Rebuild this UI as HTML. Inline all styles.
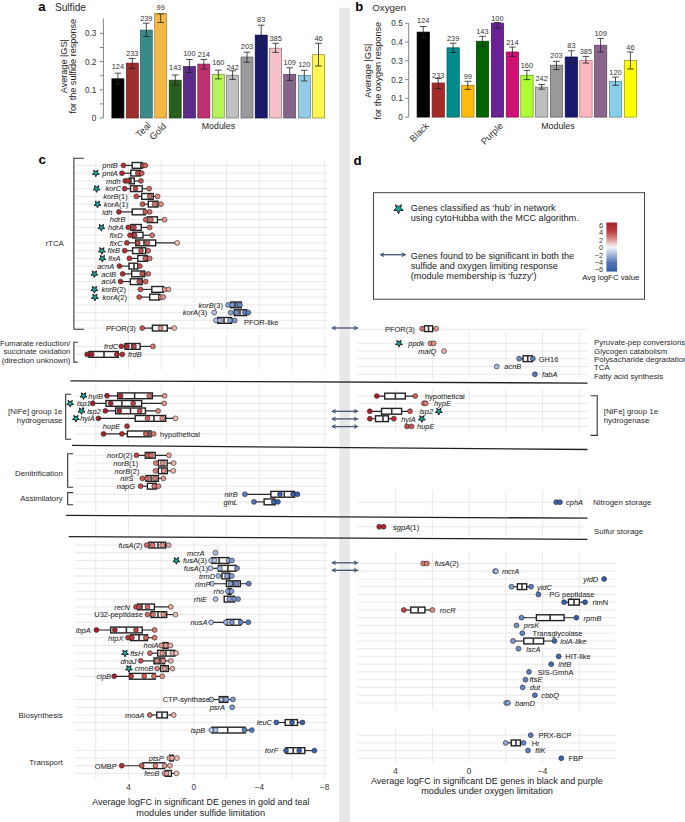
<!DOCTYPE html>
<html><head><meta charset="utf-8"><style>
html,body{margin:0;padding:0;background:#fff;}
svg{display:block;font-family:"Liberation Sans", sans-serif;}
</style></head><body>
<svg width="685" height="822" viewBox="0 0 685 822">
<rect x="0" y="0" width="685" height="822" fill="#fff"/>
<rect x="339.3" y="7.7" width="10.7" height="815" fill="#e8e8e8"/>
<text x="38.3" y="10.6" font-size="13" text-anchor="start" fill="#000" style="font-weight:bold;" >a</text>
<text x="55.0" y="10.6" font-size="10.1" text-anchor="start" fill="#2a2a2a" style="" >Sulfide</text>
<line x1="103.4" y1="18.7" x2="103.4" y2="118.0" stroke="#666" stroke-width="0.8"/>
<line x1="99.9" y1="118.0" x2="103.4" y2="118.0" stroke="#666" stroke-width="0.8"/>
<text x="96.4" y="120.9" font-size="8.2" text-anchor="end" fill="#333" style="" >0</text>
<line x1="99.9" y1="103.9" x2="103.4" y2="103.9" stroke="#666" stroke-width="0.8"/>
<line x1="99.9" y1="89.8" x2="103.4" y2="89.8" stroke="#666" stroke-width="0.8"/>
<text x="96.4" y="92.7" font-size="8.2" text-anchor="end" fill="#333" style="" >0.1</text>
<line x1="99.9" y1="75.7" x2="103.4" y2="75.7" stroke="#666" stroke-width="0.8"/>
<line x1="99.9" y1="61.6" x2="103.4" y2="61.6" stroke="#666" stroke-width="0.8"/>
<text x="96.4" y="64.5" font-size="8.2" text-anchor="end" fill="#333" style="" >0.2</text>
<line x1="99.9" y1="47.5" x2="103.4" y2="47.5" stroke="#666" stroke-width="0.8"/>
<line x1="99.9" y1="33.4" x2="103.4" y2="33.4" stroke="#666" stroke-width="0.8"/>
<text x="96.4" y="36.3" font-size="8.2" text-anchor="end" fill="#333" style="" >0.3</text>
<rect x="111.9" y="78.8" width="12" height="39.2" fill="#000000" stroke="#000" stroke-width="0.7"/>
<line x1="117.9" y1="73.2" x2="117.9" y2="84.0" stroke="#222" stroke-width="0.8"/>
<line x1="114.6" y1="73.2" x2="121.2" y2="73.2" stroke="#222" stroke-width="0.8"/>
<line x1="114.6" y1="84.0" x2="121.2" y2="84.0" stroke="#222" stroke-width="0.8"/>
<text x="117.9" y="69.1" font-size="7.4" text-anchor="middle" fill="#333" style="" >124</text>
<rect x="126.3" y="63.1" width="12" height="54.9" fill="#9b2f2d" stroke="#6b1f1d" stroke-width="0.7"/>
<line x1="132.3" y1="58.5" x2="132.3" y2="68.5" stroke="#222" stroke-width="0.8"/>
<line x1="129.0" y1="58.5" x2="135.6" y2="58.5" stroke="#222" stroke-width="0.8"/>
<line x1="129.0" y1="68.5" x2="135.6" y2="68.5" stroke="#222" stroke-width="0.8"/>
<text x="132.3" y="55.8" font-size="7.4" text-anchor="middle" fill="#333" style="" >233</text>
<rect x="140.3" y="30.1" width="12" height="87.9" fill="#3b8a8a" stroke="#2a6262" stroke-width="0.7"/>
<line x1="146.3" y1="23.2" x2="146.3" y2="36.5" stroke="#222" stroke-width="0.8"/>
<line x1="143.0" y1="23.2" x2="149.6" y2="23.2" stroke="#222" stroke-width="0.8"/>
<line x1="143.0" y1="36.5" x2="149.6" y2="36.5" stroke="#222" stroke-width="0.8"/>
<text x="146.3" y="21.3" font-size="7.4" text-anchor="middle" fill="#333" style="" >239</text>
<rect x="154.7" y="13.5" width="12" height="104.5" fill="#f3b843" stroke="#a88030" stroke-width="0.7"/>
<line x1="160.7" y1="14.0" x2="160.7" y2="22.5" stroke="#222" stroke-width="0.8"/>
<line x1="157.4" y1="14.0" x2="164.0" y2="14.0" stroke="#222" stroke-width="0.8"/>
<line x1="157.4" y1="22.5" x2="164.0" y2="22.5" stroke="#222" stroke-width="0.8"/>
<text x="160.7" y="10.3" font-size="7.4" text-anchor="middle" fill="#333" style="" >99</text>
<rect x="169.2" y="80.2" width="12" height="37.8" fill="#2a5e1c" stroke="#1a3e10" stroke-width="0.7"/>
<line x1="175.2" y1="75.0" x2="175.2" y2="85.0" stroke="#222" stroke-width="0.8"/>
<line x1="171.9" y1="75.0" x2="178.5" y2="75.0" stroke="#222" stroke-width="0.8"/>
<line x1="171.9" y1="85.0" x2="178.5" y2="85.0" stroke="#222" stroke-width="0.8"/>
<text x="175.2" y="69.9" font-size="7.4" text-anchor="middle" fill="#333" style="" >143</text>
<rect x="183.4" y="66.6" width="12" height="51.4" fill="#5c2a8a" stroke="#3c1a5a" stroke-width="0.7"/>
<line x1="189.4" y1="59.5" x2="189.4" y2="72.5" stroke="#222" stroke-width="0.8"/>
<line x1="186.1" y1="59.5" x2="192.7" y2="59.5" stroke="#222" stroke-width="0.8"/>
<line x1="186.1" y1="72.5" x2="192.7" y2="72.5" stroke="#222" stroke-width="0.8"/>
<text x="189.4" y="56.0" font-size="7.4" text-anchor="middle" fill="#333" style="" >100</text>
<rect x="197.8" y="64.1" width="12" height="53.9" fill="#c0306f" stroke="#802048" stroke-width="0.7"/>
<line x1="203.8" y1="59.5" x2="203.8" y2="69.0" stroke="#222" stroke-width="0.8"/>
<line x1="200.5" y1="59.5" x2="207.1" y2="59.5" stroke="#222" stroke-width="0.8"/>
<line x1="200.5" y1="69.0" x2="207.1" y2="69.0" stroke="#222" stroke-width="0.8"/>
<text x="203.8" y="57.3" font-size="7.4" text-anchor="middle" fill="#333" style="" >214</text>
<rect x="212.3" y="74.3" width="12" height="43.7" fill="#b6f55a" stroke="#708a40" stroke-width="0.7"/>
<line x1="218.3" y1="70.1" x2="218.3" y2="78.9" stroke="#222" stroke-width="0.8"/>
<line x1="215.0" y1="70.1" x2="221.6" y2="70.1" stroke="#222" stroke-width="0.8"/>
<line x1="215.0" y1="78.9" x2="221.6" y2="78.9" stroke="#222" stroke-width="0.8"/>
<text x="218.3" y="65.2" font-size="7.4" text-anchor="middle" fill="#333" style="" >160</text>
<rect x="226.6" y="75.2" width="12" height="42.8" fill="#c0c0c0" stroke="#707070" stroke-width="0.7"/>
<line x1="232.6" y1="70.8" x2="232.6" y2="79.4" stroke="#222" stroke-width="0.8"/>
<line x1="229.3" y1="70.8" x2="235.9" y2="70.8" stroke="#222" stroke-width="0.8"/>
<line x1="229.3" y1="79.4" x2="235.9" y2="79.4" stroke="#222" stroke-width="0.8"/>
<text x="232.6" y="69.6" font-size="7.4" text-anchor="middle" fill="#333" style="" >242</text>
<rect x="241.0" y="57.0" width="12" height="61.0" fill="#9a9a9a" stroke="#606060" stroke-width="0.7"/>
<line x1="247.0" y1="52.2" x2="247.0" y2="62.2" stroke="#222" stroke-width="0.8"/>
<line x1="243.7" y1="52.2" x2="250.3" y2="52.2" stroke="#222" stroke-width="0.8"/>
<line x1="243.7" y1="62.2" x2="250.3" y2="62.2" stroke="#222" stroke-width="0.8"/>
<text x="247.0" y="48.6" font-size="7.4" text-anchor="middle" fill="#333" style="" >203</text>
<rect x="255.2" y="35.1" width="12" height="82.9" fill="#1a1a6a" stroke="#0a0a3a" stroke-width="0.7"/>
<line x1="261.2" y1="25.2" x2="261.2" y2="45.6" stroke="#222" stroke-width="0.8"/>
<line x1="257.9" y1="25.2" x2="264.5" y2="25.2" stroke="#222" stroke-width="0.8"/>
<line x1="257.9" y1="45.6" x2="264.5" y2="45.6" stroke="#222" stroke-width="0.8"/>
<text x="261.2" y="21.5" font-size="7.4" text-anchor="middle" fill="#333" style="" >83</text>
<rect x="269.6" y="48.2" width="12" height="69.8" fill="#f5c0ca" stroke="#907078" stroke-width="0.7"/>
<line x1="275.6" y1="43.3" x2="275.6" y2="52.4" stroke="#222" stroke-width="0.8"/>
<line x1="272.3" y1="43.3" x2="278.9" y2="43.3" stroke="#222" stroke-width="0.8"/>
<line x1="272.3" y1="52.4" x2="278.9" y2="52.4" stroke="#222" stroke-width="0.8"/>
<text x="275.6" y="41.0" font-size="7.4" text-anchor="middle" fill="#333" style="" >385</text>
<rect x="283.7" y="74.3" width="12" height="43.7" fill="#85648a" stroke="#554060" stroke-width="0.7"/>
<line x1="289.7" y1="67.8" x2="289.7" y2="80.4" stroke="#222" stroke-width="0.8"/>
<line x1="286.4" y1="67.8" x2="293.0" y2="67.8" stroke="#222" stroke-width="0.8"/>
<line x1="286.4" y1="80.4" x2="293.0" y2="80.4" stroke="#222" stroke-width="0.8"/>
<text x="289.7" y="65.2" font-size="7.4" text-anchor="middle" fill="#333" style="" >109</text>
<rect x="298.3" y="75.3" width="12" height="42.7" fill="#94cce8" stroke="#5a7a8a" stroke-width="0.7"/>
<line x1="304.3" y1="70.3" x2="304.3" y2="81.0" stroke="#222" stroke-width="0.8"/>
<line x1="301.0" y1="70.3" x2="307.6" y2="70.3" stroke="#222" stroke-width="0.8"/>
<line x1="301.0" y1="81.0" x2="307.6" y2="81.0" stroke="#222" stroke-width="0.8"/>
<text x="304.3" y="67.3" font-size="7.4" text-anchor="middle" fill="#333" style="" >120</text>
<rect x="312.5" y="54.7" width="12" height="63.3" fill="#fff650" stroke="#908a30" stroke-width="0.7"/>
<line x1="318.5" y1="43.3" x2="318.5" y2="66.0" stroke="#222" stroke-width="0.8"/>
<line x1="315.2" y1="43.3" x2="321.8" y2="43.3" stroke="#222" stroke-width="0.8"/>
<line x1="315.2" y1="66.0" x2="321.8" y2="66.0" stroke="#222" stroke-width="0.8"/>
<text x="318.5" y="41.0" font-size="7.4" text-anchor="middle" fill="#333" style="" >46</text>
<text x="151.5" y="126.0" font-size="9.2" text-anchor="end" fill="#333" transform="rotate(-45 151.5 126.0)">Teal</text>
<text x="166.9" y="126.8" font-size="9.2" text-anchor="end" fill="#333" transform="rotate(-45 166.9 126.8)">Gold</text>
<text x="201.8" y="129.0" font-size="8.8" text-anchor="start" fill="#222" style="" >Modules</text>
<text x="66.8" y="66.2" font-size="9.1" text-anchor="middle" fill="#222" transform="rotate(-90 66.8 66.2)">Average |GS|</text>
<text x="76.3" y="66.2" font-size="9.1" text-anchor="middle" fill="#222" transform="rotate(-90 76.3 66.2)">for the sulfide response</text>
<text x="355.3" y="10.9" font-size="13" text-anchor="start" fill="#000" style="font-weight:bold;" >b</text>
<text x="372.2" y="10.9" font-size="9.8" text-anchor="start" fill="#2a2a2a" style="" >Oxygen</text>
<line x1="408.7" y1="23.3" x2="408.7" y2="117.1" stroke="#666" stroke-width="0.8"/>
<line x1="405.2" y1="117.1" x2="408.7" y2="117.1" stroke="#666" stroke-width="0.8"/>
<text x="402.7" y="120.0" font-size="8.2" text-anchor="end" fill="#333" style="" >0</text>
<line x1="405.2" y1="98.3" x2="408.7" y2="98.3" stroke="#666" stroke-width="0.8"/>
<text x="402.7" y="101.2" font-size="8.2" text-anchor="end" fill="#333" style="" >0.1</text>
<line x1="405.2" y1="79.6" x2="408.7" y2="79.6" stroke="#666" stroke-width="0.8"/>
<text x="402.7" y="82.5" font-size="8.2" text-anchor="end" fill="#333" style="" >0.2</text>
<line x1="405.2" y1="60.8" x2="408.7" y2="60.8" stroke="#666" stroke-width="0.8"/>
<text x="402.7" y="63.7" font-size="8.2" text-anchor="end" fill="#333" style="" >0.3</text>
<line x1="405.2" y1="42.1" x2="408.7" y2="42.1" stroke="#666" stroke-width="0.8"/>
<text x="402.7" y="45.0" font-size="8.2" text-anchor="end" fill="#333" style="" >0.4</text>
<line x1="405.2" y1="23.3" x2="408.7" y2="23.3" stroke="#666" stroke-width="0.8"/>
<text x="402.7" y="26.2" font-size="8.2" text-anchor="end" fill="#333" style="" >0.5</text>
<rect x="417.1" y="32.1" width="12.3" height="85.0" fill="#000000" stroke="#000" stroke-width="0.7"/>
<line x1="423.2" y1="26.5" x2="423.2" y2="38.0" stroke="#222" stroke-width="0.8"/>
<line x1="419.9" y1="26.5" x2="426.6" y2="26.5" stroke="#222" stroke-width="0.8"/>
<line x1="419.9" y1="38.0" x2="426.6" y2="38.0" stroke="#222" stroke-width="0.8"/>
<text x="423.2" y="23.1" font-size="7.4" text-anchor="middle" fill="#333" style="" >124</text>
<rect x="432.1" y="83.0" width="12.3" height="34.1" fill="#a52a2a" stroke="#701a1a" stroke-width="0.7"/>
<line x1="438.2" y1="78.5" x2="438.2" y2="88.5" stroke="#222" stroke-width="0.8"/>
<line x1="434.9" y1="78.5" x2="441.6" y2="78.5" stroke="#222" stroke-width="0.8"/>
<line x1="434.9" y1="88.5" x2="441.6" y2="88.5" stroke="#222" stroke-width="0.8"/>
<text x="438.2" y="77.5" font-size="7.4" text-anchor="middle" fill="#333" style="" >233</text>
<rect x="447.0" y="47.8" width="12.3" height="69.3" fill="#008b8b" stroke="#005a5a" stroke-width="0.7"/>
<line x1="453.1" y1="43.2" x2="453.1" y2="52.5" stroke="#222" stroke-width="0.8"/>
<line x1="449.8" y1="43.2" x2="456.4" y2="43.2" stroke="#222" stroke-width="0.8"/>
<line x1="449.8" y1="52.5" x2="456.4" y2="52.5" stroke="#222" stroke-width="0.8"/>
<text x="453.1" y="40.7" font-size="7.4" text-anchor="middle" fill="#333" style="" >239</text>
<rect x="461.7" y="85.3" width="12.3" height="31.8" fill="#ffb90f" stroke="#a07810" stroke-width="0.7"/>
<line x1="467.8" y1="81.3" x2="467.8" y2="89.4" stroke="#222" stroke-width="0.8"/>
<line x1="464.5" y1="81.3" x2="471.1" y2="81.3" stroke="#222" stroke-width="0.8"/>
<line x1="464.5" y1="89.4" x2="471.1" y2="89.4" stroke="#222" stroke-width="0.8"/>
<text x="467.8" y="78.8" font-size="7.4" text-anchor="middle" fill="#333" style="" >99</text>
<rect x="476.3" y="41.2" width="12.3" height="75.9" fill="#006400" stroke="#004000" stroke-width="0.7"/>
<line x1="482.4" y1="36.3" x2="482.4" y2="46.3" stroke="#222" stroke-width="0.8"/>
<line x1="479.1" y1="36.3" x2="485.8" y2="36.3" stroke="#222" stroke-width="0.8"/>
<line x1="479.1" y1="46.3" x2="485.8" y2="46.3" stroke="#222" stroke-width="0.8"/>
<text x="482.4" y="33.6" font-size="7.4" text-anchor="middle" fill="#333" style="" >143</text>
<rect x="491.3" y="23.1" width="12.3" height="94.0" fill="#6a2096" stroke="#401060" stroke-width="0.7"/>
<line x1="497.4" y1="22.5" x2="497.4" y2="28.4" stroke="#222" stroke-width="0.8"/>
<line x1="494.1" y1="22.5" x2="500.8" y2="22.5" stroke="#222" stroke-width="0.8"/>
<line x1="494.1" y1="28.4" x2="500.8" y2="28.4" stroke="#222" stroke-width="0.8"/>
<text x="497.4" y="21.0" font-size="7.4" text-anchor="middle" fill="#333" style="" >100</text>
<rect x="506.2" y="52.0" width="12.3" height="65.1" fill="#d01075" stroke="#800a48" stroke-width="0.7"/>
<line x1="512.4" y1="47.1" x2="512.4" y2="56.4" stroke="#222" stroke-width="0.8"/>
<line x1="509.1" y1="47.1" x2="515.6" y2="47.1" stroke="#222" stroke-width="0.8"/>
<line x1="509.1" y1="56.4" x2="515.6" y2="56.4" stroke="#222" stroke-width="0.8"/>
<text x="512.4" y="45.3" font-size="7.4" text-anchor="middle" fill="#333" style="" >214</text>
<rect x="520.8" y="75.2" width="12.3" height="41.9" fill="#adff2f" stroke="#6a9a20" stroke-width="0.7"/>
<line x1="526.9" y1="70.4" x2="526.9" y2="79.6" stroke="#222" stroke-width="0.8"/>
<line x1="523.6" y1="70.4" x2="530.2" y2="70.4" stroke="#222" stroke-width="0.8"/>
<line x1="523.6" y1="79.6" x2="530.2" y2="79.6" stroke="#222" stroke-width="0.8"/>
<text x="526.9" y="68.3" font-size="7.4" text-anchor="middle" fill="#333" style="" >160</text>
<rect x="535.5" y="87.1" width="12.3" height="30.0" fill="#bebebe" stroke="#707070" stroke-width="0.7"/>
<line x1="541.6" y1="84.5" x2="541.6" y2="89.2" stroke="#222" stroke-width="0.8"/>
<line x1="538.4" y1="84.5" x2="544.9" y2="84.5" stroke="#222" stroke-width="0.8"/>
<line x1="538.4" y1="89.2" x2="544.9" y2="89.2" stroke="#222" stroke-width="0.8"/>
<text x="541.6" y="81.2" font-size="7.4" text-anchor="middle" fill="#333" style="" >242</text>
<rect x="550.4" y="65.2" width="12.3" height="51.9" fill="#999999" stroke="#5a5a5a" stroke-width="0.7"/>
<line x1="556.5" y1="61.3" x2="556.5" y2="69.6" stroke="#222" stroke-width="0.8"/>
<line x1="553.2" y1="61.3" x2="559.8" y2="61.3" stroke="#222" stroke-width="0.8"/>
<line x1="553.2" y1="69.6" x2="559.8" y2="69.6" stroke="#222" stroke-width="0.8"/>
<text x="556.5" y="57.5" font-size="7.4" text-anchor="middle" fill="#333" style="" >203</text>
<rect x="565.2" y="57.0" width="12.3" height="60.1" fill="#191970" stroke="#0a0a40" stroke-width="0.7"/>
<line x1="571.4" y1="50.8" x2="571.4" y2="63.1" stroke="#222" stroke-width="0.8"/>
<line x1="568.1" y1="50.8" x2="574.6" y2="50.8" stroke="#222" stroke-width="0.8"/>
<line x1="568.1" y1="63.1" x2="574.6" y2="63.1" stroke="#222" stroke-width="0.8"/>
<text x="571.4" y="47.5" font-size="7.4" text-anchor="middle" fill="#333" style="" >83</text>
<rect x="579.8" y="60.3" width="12.3" height="56.8" fill="#ffb6c1" stroke="#9a7078" stroke-width="0.7"/>
<line x1="585.9" y1="56.4" x2="585.9" y2="63.1" stroke="#222" stroke-width="0.8"/>
<line x1="582.6" y1="56.4" x2="589.2" y2="56.4" stroke="#222" stroke-width="0.8"/>
<line x1="582.6" y1="63.1" x2="589.2" y2="63.1" stroke="#222" stroke-width="0.8"/>
<text x="585.9" y="53.9" font-size="7.4" text-anchor="middle" fill="#333" style="" >385</text>
<rect x="594.5" y="45.2" width="12.3" height="71.9" fill="#8b668b" stroke="#5a405a" stroke-width="0.7"/>
<line x1="600.6" y1="38.4" x2="600.6" y2="52.0" stroke="#222" stroke-width="0.8"/>
<line x1="597.4" y1="38.4" x2="603.9" y2="38.4" stroke="#222" stroke-width="0.8"/>
<line x1="597.4" y1="52.0" x2="603.9" y2="52.0" stroke="#222" stroke-width="0.8"/>
<text x="600.6" y="35.9" font-size="7.4" text-anchor="middle" fill="#333" style="" >109</text>
<rect x="609.4" y="81.3" width="12.3" height="35.8" fill="#87ceeb" stroke="#50808a" stroke-width="0.7"/>
<line x1="615.5" y1="77.1" x2="615.5" y2="85.3" stroke="#222" stroke-width="0.8"/>
<line x1="612.2" y1="77.1" x2="618.8" y2="77.1" stroke="#222" stroke-width="0.8"/>
<line x1="612.2" y1="85.3" x2="618.8" y2="85.3" stroke="#222" stroke-width="0.8"/>
<text x="615.5" y="75.0" font-size="7.4" text-anchor="middle" fill="#333" style="" >120</text>
<rect x="624.3" y="60.3" width="12.3" height="56.8" fill="#ffff00" stroke="#90902a" stroke-width="0.7"/>
<line x1="630.4" y1="52.0" x2="630.4" y2="69.0" stroke="#222" stroke-width="0.8"/>
<line x1="627.1" y1="52.0" x2="633.7" y2="52.0" stroke="#222" stroke-width="0.8"/>
<line x1="627.1" y1="69.0" x2="633.7" y2="69.0" stroke="#222" stroke-width="0.8"/>
<text x="630.4" y="50.2" font-size="7.4" text-anchor="middle" fill="#333" style="" >46</text>
<text x="429.5" y="126.5" font-size="9.2" text-anchor="end" fill="#333" transform="rotate(-45 429.5 126.5)">Black</text>
<text x="503.5" y="126.5" font-size="9.2" text-anchor="end" fill="#333" transform="rotate(-45 503.5 126.5)">Purple</text>
<text x="541.3" y="129.0" font-size="8.8" text-anchor="start" fill="#222" style="" >Modules</text>
<text x="370.6" y="70.7" font-size="9.1" text-anchor="middle" fill="#222" transform="rotate(-90 370.6 70.7)">Average |GS|</text>
<text x="380.7" y="70.7" font-size="9.1" text-anchor="middle" fill="#222" transform="rotate(-90 380.7 70.7)">for the oxygen response</text>
<text x="38.5" y="164.4" font-size="13.5" text-anchor="start" fill="#000" style="font-weight:bold;" >c</text>
<line x1="95.8" y1="161.0" x2="95.8" y2="331.5" stroke="#e6e6e6" stroke-width="0.9"/>
<line x1="128.5" y1="161.0" x2="128.5" y2="331.5" stroke="#e6e6e6" stroke-width="0.9"/>
<line x1="161.2" y1="161.0" x2="161.2" y2="331.5" stroke="#e6e6e6" stroke-width="0.9"/>
<line x1="193.9" y1="161.0" x2="193.9" y2="331.5" stroke="#e6e6e6" stroke-width="0.9"/>
<line x1="226.6" y1="161.0" x2="226.6" y2="331.5" stroke="#e6e6e6" stroke-width="0.9"/>
<line x1="259.3" y1="161.0" x2="259.3" y2="331.5" stroke="#e6e6e6" stroke-width="0.9"/>
<line x1="292.0" y1="161.0" x2="292.0" y2="331.5" stroke="#e6e6e6" stroke-width="0.9"/>
<line x1="324.7" y1="161.0" x2="324.7" y2="331.5" stroke="#e6e6e6" stroke-width="0.9"/>
<line x1="75.2" y1="165.4" x2="327.5" y2="165.4" stroke="#e6e6e6" stroke-width="0.9"/>
<line x1="75.2" y1="173.2" x2="327.5" y2="173.2" stroke="#e6e6e6" stroke-width="0.9"/>
<line x1="75.2" y1="180.9" x2="327.5" y2="180.9" stroke="#e6e6e6" stroke-width="0.9"/>
<line x1="75.2" y1="188.7" x2="327.5" y2="188.7" stroke="#e6e6e6" stroke-width="0.9"/>
<line x1="75.2" y1="196.4" x2="327.5" y2="196.4" stroke="#e6e6e6" stroke-width="0.9"/>
<line x1="75.2" y1="204.2" x2="327.5" y2="204.2" stroke="#e6e6e6" stroke-width="0.9"/>
<line x1="75.2" y1="211.9" x2="327.5" y2="211.9" stroke="#e6e6e6" stroke-width="0.9"/>
<line x1="75.2" y1="219.7" x2="327.5" y2="219.7" stroke="#e6e6e6" stroke-width="0.9"/>
<line x1="75.2" y1="227.4" x2="327.5" y2="227.4" stroke="#e6e6e6" stroke-width="0.9"/>
<line x1="75.2" y1="235.2" x2="327.5" y2="235.2" stroke="#e6e6e6" stroke-width="0.9"/>
<line x1="75.2" y1="242.9" x2="327.5" y2="242.9" stroke="#e6e6e6" stroke-width="0.9"/>
<line x1="75.2" y1="250.7" x2="327.5" y2="250.7" stroke="#e6e6e6" stroke-width="0.9"/>
<line x1="75.2" y1="258.4" x2="327.5" y2="258.4" stroke="#e6e6e6" stroke-width="0.9"/>
<line x1="75.2" y1="266.1" x2="327.5" y2="266.1" stroke="#e6e6e6" stroke-width="0.9"/>
<line x1="75.2" y1="273.9" x2="327.5" y2="273.9" stroke="#e6e6e6" stroke-width="0.9"/>
<line x1="75.2" y1="281.6" x2="327.5" y2="281.6" stroke="#e6e6e6" stroke-width="0.9"/>
<line x1="75.2" y1="289.4" x2="327.5" y2="289.4" stroke="#e6e6e6" stroke-width="0.9"/>
<line x1="75.2" y1="297.1" x2="327.5" y2="297.1" stroke="#e6e6e6" stroke-width="0.9"/>
<line x1="75.2" y1="304.9" x2="327.5" y2="304.9" stroke="#e6e6e6" stroke-width="0.9"/>
<line x1="75.2" y1="312.6" x2="327.5" y2="312.6" stroke="#e6e6e6" stroke-width="0.9"/>
<line x1="75.2" y1="320.4" x2="327.5" y2="320.4" stroke="#e6e6e6" stroke-width="0.9"/>
<line x1="75.2" y1="328.1" x2="327.5" y2="328.1" stroke="#e6e6e6" stroke-width="0.9"/>
<line x1="95.8" y1="335.3" x2="95.8" y2="369.8" stroke="#e6e6e6" stroke-width="0.9"/>
<line x1="128.5" y1="335.3" x2="128.5" y2="369.8" stroke="#e6e6e6" stroke-width="0.9"/>
<line x1="161.2" y1="335.3" x2="161.2" y2="369.8" stroke="#e6e6e6" stroke-width="0.9"/>
<line x1="193.9" y1="335.3" x2="193.9" y2="369.8" stroke="#e6e6e6" stroke-width="0.9"/>
<line x1="226.6" y1="335.3" x2="226.6" y2="369.8" stroke="#e6e6e6" stroke-width="0.9"/>
<line x1="259.3" y1="335.3" x2="259.3" y2="369.8" stroke="#e6e6e6" stroke-width="0.9"/>
<line x1="292.0" y1="335.3" x2="292.0" y2="369.8" stroke="#e6e6e6" stroke-width="0.9"/>
<line x1="324.7" y1="335.3" x2="324.7" y2="369.8" stroke="#e6e6e6" stroke-width="0.9"/>
<line x1="75.2" y1="346.4" x2="327.5" y2="346.4" stroke="#e6e6e6" stroke-width="0.9"/>
<line x1="75.2" y1="354.4" x2="327.5" y2="354.4" stroke="#e6e6e6" stroke-width="0.9"/>
<line x1="95.8" y1="385.6" x2="95.8" y2="443.4" stroke="#e6e6e6" stroke-width="0.9"/>
<line x1="128.5" y1="385.6" x2="128.5" y2="443.4" stroke="#e6e6e6" stroke-width="0.9"/>
<line x1="161.2" y1="385.6" x2="161.2" y2="443.4" stroke="#e6e6e6" stroke-width="0.9"/>
<line x1="193.9" y1="385.6" x2="193.9" y2="443.4" stroke="#e6e6e6" stroke-width="0.9"/>
<line x1="226.6" y1="385.6" x2="226.6" y2="443.4" stroke="#e6e6e6" stroke-width="0.9"/>
<line x1="259.3" y1="385.6" x2="259.3" y2="443.4" stroke="#e6e6e6" stroke-width="0.9"/>
<line x1="292.0" y1="385.6" x2="292.0" y2="443.4" stroke="#e6e6e6" stroke-width="0.9"/>
<line x1="324.7" y1="385.6" x2="324.7" y2="443.4" stroke="#e6e6e6" stroke-width="0.9"/>
<line x1="75.2" y1="395.8" x2="327.5" y2="395.8" stroke="#e6e6e6" stroke-width="0.9"/>
<line x1="75.2" y1="403.4" x2="327.5" y2="403.4" stroke="#e6e6e6" stroke-width="0.9"/>
<line x1="75.2" y1="410.9" x2="327.5" y2="410.9" stroke="#e6e6e6" stroke-width="0.9"/>
<line x1="75.2" y1="418.4" x2="327.5" y2="418.4" stroke="#e6e6e6" stroke-width="0.9"/>
<line x1="75.2" y1="426.2" x2="327.5" y2="426.2" stroke="#e6e6e6" stroke-width="0.9"/>
<line x1="75.2" y1="433.9" x2="327.5" y2="433.9" stroke="#e6e6e6" stroke-width="0.9"/>
<line x1="95.8" y1="450.4" x2="95.8" y2="512.3" stroke="#e6e6e6" stroke-width="0.9"/>
<line x1="128.5" y1="450.4" x2="128.5" y2="512.3" stroke="#e6e6e6" stroke-width="0.9"/>
<line x1="161.2" y1="450.4" x2="161.2" y2="512.3" stroke="#e6e6e6" stroke-width="0.9"/>
<line x1="193.9" y1="450.4" x2="193.9" y2="512.3" stroke="#e6e6e6" stroke-width="0.9"/>
<line x1="226.6" y1="450.4" x2="226.6" y2="512.3" stroke="#e6e6e6" stroke-width="0.9"/>
<line x1="259.3" y1="450.4" x2="259.3" y2="512.3" stroke="#e6e6e6" stroke-width="0.9"/>
<line x1="292.0" y1="450.4" x2="292.0" y2="512.3" stroke="#e6e6e6" stroke-width="0.9"/>
<line x1="324.7" y1="450.4" x2="324.7" y2="512.3" stroke="#e6e6e6" stroke-width="0.9"/>
<line x1="75.2" y1="455.3" x2="327.5" y2="455.3" stroke="#e6e6e6" stroke-width="0.9"/>
<line x1="75.2" y1="463.1" x2="327.5" y2="463.1" stroke="#e6e6e6" stroke-width="0.9"/>
<line x1="75.2" y1="470.8" x2="327.5" y2="470.8" stroke="#e6e6e6" stroke-width="0.9"/>
<line x1="75.2" y1="478.4" x2="327.5" y2="478.4" stroke="#e6e6e6" stroke-width="0.9"/>
<line x1="75.2" y1="486.2" x2="327.5" y2="486.2" stroke="#e6e6e6" stroke-width="0.9"/>
<line x1="75.2" y1="494.3" x2="327.5" y2="494.3" stroke="#e6e6e6" stroke-width="0.9"/>
<line x1="75.2" y1="501.9" x2="327.5" y2="501.9" stroke="#e6e6e6" stroke-width="0.9"/>
<line x1="95.8" y1="518.1" x2="95.8" y2="535.6" stroke="#e6e6e6" stroke-width="0.9"/>
<line x1="128.5" y1="518.1" x2="128.5" y2="535.6" stroke="#e6e6e6" stroke-width="0.9"/>
<line x1="161.2" y1="518.1" x2="161.2" y2="535.6" stroke="#e6e6e6" stroke-width="0.9"/>
<line x1="193.9" y1="518.1" x2="193.9" y2="535.6" stroke="#e6e6e6" stroke-width="0.9"/>
<line x1="226.6" y1="518.1" x2="226.6" y2="535.6" stroke="#e6e6e6" stroke-width="0.9"/>
<line x1="259.3" y1="518.1" x2="259.3" y2="535.6" stroke="#e6e6e6" stroke-width="0.9"/>
<line x1="292.0" y1="518.1" x2="292.0" y2="535.6" stroke="#e6e6e6" stroke-width="0.9"/>
<line x1="324.7" y1="518.1" x2="324.7" y2="535.6" stroke="#e6e6e6" stroke-width="0.9"/>
<line x1="95.8" y1="541.5" x2="95.8" y2="779.0" stroke="#e6e6e6" stroke-width="0.9"/>
<line x1="128.5" y1="541.5" x2="128.5" y2="779.0" stroke="#e6e6e6" stroke-width="0.9"/>
<line x1="161.2" y1="541.5" x2="161.2" y2="779.0" stroke="#e6e6e6" stroke-width="0.9"/>
<line x1="193.9" y1="541.5" x2="193.9" y2="779.0" stroke="#e6e6e6" stroke-width="0.9"/>
<line x1="226.6" y1="541.5" x2="226.6" y2="779.0" stroke="#e6e6e6" stroke-width="0.9"/>
<line x1="259.3" y1="541.5" x2="259.3" y2="779.0" stroke="#e6e6e6" stroke-width="0.9"/>
<line x1="292.0" y1="541.5" x2="292.0" y2="779.0" stroke="#e6e6e6" stroke-width="0.9"/>
<line x1="324.7" y1="541.5" x2="324.7" y2="779.0" stroke="#e6e6e6" stroke-width="0.9"/>
<line x1="75.2" y1="545.1" x2="327.5" y2="545.1" stroke="#e6e6e6" stroke-width="0.9"/>
<line x1="75.2" y1="552.8" x2="327.5" y2="552.8" stroke="#e6e6e6" stroke-width="0.9"/>
<line x1="75.2" y1="560.5" x2="327.5" y2="560.5" stroke="#e6e6e6" stroke-width="0.9"/>
<line x1="75.2" y1="568.3" x2="327.5" y2="568.3" stroke="#e6e6e6" stroke-width="0.9"/>
<line x1="75.2" y1="576.0" x2="327.5" y2="576.0" stroke="#e6e6e6" stroke-width="0.9"/>
<line x1="75.2" y1="583.7" x2="327.5" y2="583.7" stroke="#e6e6e6" stroke-width="0.9"/>
<line x1="75.2" y1="591.4" x2="327.5" y2="591.4" stroke="#e6e6e6" stroke-width="0.9"/>
<line x1="75.2" y1="599.1" x2="327.5" y2="599.1" stroke="#e6e6e6" stroke-width="0.9"/>
<line x1="75.2" y1="606.9" x2="327.5" y2="606.9" stroke="#e6e6e6" stroke-width="0.9"/>
<line x1="75.2" y1="614.6" x2="327.5" y2="614.6" stroke="#e6e6e6" stroke-width="0.9"/>
<line x1="75.2" y1="622.3" x2="327.5" y2="622.3" stroke="#e6e6e6" stroke-width="0.9"/>
<line x1="75.2" y1="630.0" x2="327.5" y2="630.0" stroke="#e6e6e6" stroke-width="0.9"/>
<line x1="75.2" y1="637.7" x2="327.5" y2="637.7" stroke="#e6e6e6" stroke-width="0.9"/>
<line x1="75.2" y1="645.5" x2="327.5" y2="645.5" stroke="#e6e6e6" stroke-width="0.9"/>
<line x1="75.2" y1="653.2" x2="327.5" y2="653.2" stroke="#e6e6e6" stroke-width="0.9"/>
<line x1="75.2" y1="660.9" x2="327.5" y2="660.9" stroke="#e6e6e6" stroke-width="0.9"/>
<line x1="75.2" y1="668.6" x2="327.5" y2="668.6" stroke="#e6e6e6" stroke-width="0.9"/>
<line x1="75.2" y1="676.3" x2="327.5" y2="676.3" stroke="#e6e6e6" stroke-width="0.9"/>
<line x1="75.2" y1="699.5" x2="327.5" y2="699.5" stroke="#e6e6e6" stroke-width="0.9"/>
<line x1="75.2" y1="707.3" x2="327.5" y2="707.3" stroke="#e6e6e6" stroke-width="0.9"/>
<line x1="75.2" y1="715.0" x2="327.5" y2="715.0" stroke="#e6e6e6" stroke-width="0.9"/>
<line x1="75.2" y1="722.5" x2="327.5" y2="722.5" stroke="#e6e6e6" stroke-width="0.9"/>
<line x1="75.2" y1="730.1" x2="327.5" y2="730.1" stroke="#e6e6e6" stroke-width="0.9"/>
<line x1="75.2" y1="750.6" x2="327.5" y2="750.6" stroke="#e6e6e6" stroke-width="0.9"/>
<line x1="75.2" y1="758.1" x2="327.5" y2="758.1" stroke="#e6e6e6" stroke-width="0.9"/>
<line x1="75.2" y1="765.7" x2="327.5" y2="765.7" stroke="#e6e6e6" stroke-width="0.9"/>
<line x1="75.2" y1="773.4" x2="327.5" y2="773.4" stroke="#e6e6e6" stroke-width="0.9"/>
<line x1="123.4" y1="165.4" x2="145.3" y2="165.4" stroke="#2a2a2a" stroke-width="1.15"/>
<rect x="132.2" y="162.5" width="10.0" height="5.8" fill="#fff" stroke="#222" stroke-width="1.4"/>
<line x1="141.0" y1="162.5" x2="141.0" y2="168.3" stroke="#333" stroke-width="1.6"/>
<circle cx="123.4" cy="165.4" r="2.45" fill="#b42b32" stroke="#222" stroke-width="0.6"/>
<circle cx="143.4" cy="165.4" r="2.45" fill="#cc5855" stroke="#222" stroke-width="0.6"/>
<circle cx="145.3" cy="165.4" r="2.45" fill="#cf5d59" stroke="#222" stroke-width="0.6"/>
<text transform="translate(117.70,168.20) scale(0.94,1)" x="0" y="0" font-size="7.95" text-anchor="end" fill="#232323" stroke="#232323" stroke-width="0.04"><tspan style="font-style:italic">pntB</tspan></text>
<line x1="122.0" y1="173.2" x2="141.7" y2="173.2" stroke="#2a2a2a" stroke-width="1.15"/>
<rect x="130.8" y="170.2" width="9.6" height="5.8" fill="#fff" stroke="#222" stroke-width="1.4"/>
<line x1="138.0" y1="170.2" x2="138.0" y2="176.1" stroke="#333" stroke-width="1.6"/>
<circle cx="122.0" cy="173.2" r="2.45" fill="#b32a31" stroke="#222" stroke-width="0.6"/>
<circle cx="137.8" cy="173.2" r="2.45" fill="#c54948" stroke="#222" stroke-width="0.6"/>
<circle cx="141.7" cy="173.2" r="2.45" fill="#ca5451" stroke="#222" stroke-width="0.6"/>
<polygon points="95.80,176.85 94.82,174.50 92.28,174.29 94.22,172.64 93.63,170.16 95.80,171.49 97.97,170.16 97.38,172.64 99.32,174.29 96.78,174.50" fill="#14a898" stroke="#111" stroke-width="0.9" stroke-linejoin="miter"/>
<text transform="translate(117.70,175.95) scale(0.94,1)" x="0" y="0" font-size="7.95" text-anchor="end" fill="#232323" stroke="#232323" stroke-width="0.04"><tspan style="font-style:italic">pntA</tspan></text>
<line x1="125.2" y1="180.9" x2="141.0" y2="180.9" stroke="#2a2a2a" stroke-width="1.15"/>
<rect x="129.4" y="178.0" width="4.9" height="5.8" fill="#fff" stroke="#222" stroke-width="1.4"/>
<line x1="131.0" y1="178.0" x2="131.0" y2="183.8" stroke="#333" stroke-width="1.6"/>
<circle cx="125.2" cy="180.9" r="2.45" fill="#b62d32" stroke="#222" stroke-width="0.6"/>
<circle cx="127.7" cy="180.9" r="2.45" fill="#b72f34" stroke="#222" stroke-width="0.6"/>
<circle cx="141.0" cy="180.9" r="2.45" fill="#c95250" stroke="#222" stroke-width="0.6"/>
<text transform="translate(120.60,183.70) scale(0.94,1)" x="0" y="0" font-size="7.95" text-anchor="end" fill="#232323" stroke="#232323" stroke-width="0.04"><tspan style="font-style:italic">mdh</tspan></text>
<line x1="124.7" y1="188.7" x2="149.2" y2="188.7" stroke="#2a2a2a" stroke-width="1.15"/>
<rect x="130.5" y="185.8" width="11.7" height="5.8" fill="#fff" stroke="#222" stroke-width="1.4"/>
<line x1="136.0" y1="185.8" x2="136.0" y2="191.6" stroke="#333" stroke-width="1.6"/>
<circle cx="124.7" cy="188.7" r="2.45" fill="#b52c32" stroke="#222" stroke-width="0.6"/>
<circle cx="135.5" cy="188.7" r="2.45" fill="#c14343" stroke="#222" stroke-width="0.6"/>
<circle cx="149.2" cy="188.7" r="2.45" fill="#d36963" stroke="#222" stroke-width="0.6"/>
<polygon points="96.60,192.35 95.62,190.00 93.08,189.79 95.02,188.14 94.43,185.66 96.60,186.99 98.77,185.66 98.18,188.14 100.12,189.79 97.58,190.00" fill="#14a898" stroke="#111" stroke-width="0.9" stroke-linejoin="miter"/>
<text transform="translate(121.20,191.45) scale(0.94,1)" x="0" y="0" font-size="7.95" text-anchor="end" fill="#232323" stroke="#232323" stroke-width="0.04"><tspan style="font-style:italic">korC</tspan></text>
<line x1="136.4" y1="196.4" x2="157.6" y2="196.4" stroke="#2a2a2a" stroke-width="1.15"/>
<rect x="141.7" y="193.5" width="11.5" height="5.8" fill="#fff" stroke="#222" stroke-width="1.4"/>
<line x1="149.0" y1="193.5" x2="149.0" y2="199.3" stroke="#333" stroke-width="1.6"/>
<circle cx="136.4" cy="196.4" r="2.45" fill="#c34545" stroke="#222" stroke-width="0.6"/>
<circle cx="149.7" cy="196.4" r="2.45" fill="#d46b64" stroke="#222" stroke-width="0.6"/>
<circle cx="157.6" cy="196.4" r="2.45" fill="#de8379" stroke="#222" stroke-width="0.6"/>
<text transform="translate(127.70,199.20) scale(0.94,1)" x="0" y="0" font-size="7.95" text-anchor="end" fill="#232323" stroke="#232323" stroke-width="0.04"><tspan style="font-style:italic">korB</tspan>(1)</text>
<line x1="142.5" y1="204.2" x2="160.9" y2="204.2" stroke="#2a2a2a" stroke-width="1.15"/>
<rect x="148.3" y="201.2" width="9.7" height="5.8" fill="#fff" stroke="#222" stroke-width="1.4"/>
<line x1="155.0" y1="201.2" x2="155.0" y2="207.1" stroke="#333" stroke-width="1.6"/>
<circle cx="142.5" cy="204.2" r="2.45" fill="#cb5653" stroke="#222" stroke-width="0.6"/>
<circle cx="154.5" cy="204.2" r="2.45" fill="#da7a71" stroke="#222" stroke-width="0.6"/>
<circle cx="160.9" cy="204.2" r="2.45" fill="#e28d81" stroke="#222" stroke-width="0.6"/>
<polygon points="97.50,207.85 96.52,205.50 93.98,205.29 95.92,203.64 95.33,201.16 97.50,202.49 99.67,201.16 99.08,203.64 101.02,205.29 98.48,205.50" fill="#14a898" stroke="#111" stroke-width="0.9" stroke-linejoin="miter"/>
<text transform="translate(128.20,206.95) scale(0.94,1)" x="0" y="0" font-size="7.95" text-anchor="end" fill="#232323" stroke="#232323" stroke-width="0.04"><tspan style="font-style:italic">korA</tspan>(1)</text>
<line x1="118.9" y1="211.9" x2="149.7" y2="211.9" stroke="#2a2a2a" stroke-width="1.15"/>
<rect x="132.2" y="209.0" width="13.0" height="5.8" fill="#fff" stroke="#222" stroke-width="1.4"/>
<line x1="144.0" y1="209.0" x2="144.0" y2="214.8" stroke="#333" stroke-width="1.6"/>
<circle cx="118.9" cy="211.9" r="2.45" fill="#b1272f" stroke="#222" stroke-width="0.6"/>
<circle cx="145.2" cy="211.9" r="2.45" fill="#ce5d59" stroke="#222" stroke-width="0.6"/>
<circle cx="149.7" cy="211.9" r="2.45" fill="#d46b64" stroke="#222" stroke-width="0.6"/>
<text transform="translate(112.30,214.70) scale(0.94,1)" x="0" y="0" font-size="7.95" text-anchor="end" fill="#232323" stroke="#232323" stroke-width="0.04"><tspan style="font-style:italic">idh</tspan></text>
<line x1="145.7" y1="219.7" x2="164.6" y2="219.7" stroke="#2a2a2a" stroke-width="1.15"/>
<rect x="147.4" y="216.8" width="10.0" height="5.8" fill="#fff" stroke="#222" stroke-width="1.4"/>
<line x1="151.0" y1="216.8" x2="151.0" y2="222.6" stroke="#333" stroke-width="1.6"/>
<circle cx="145.7" cy="219.7" r="2.45" fill="#cf5f5a" stroke="#222" stroke-width="0.6"/>
<circle cx="151.0" cy="219.7" r="2.45" fill="#d66f68" stroke="#222" stroke-width="0.6"/>
<circle cx="164.6" cy="219.7" r="2.45" fill="#e5998e" stroke="#222" stroke-width="0.6"/>
<text transform="translate(125.50,222.45) scale(0.94,1)" x="0" y="0" font-size="7.95" text-anchor="end" fill="#232323" stroke="#232323" stroke-width="0.04"><tspan style="font-style:italic">hdrB</tspan></text>
<line x1="128.2" y1="227.4" x2="149.7" y2="227.4" stroke="#2a2a2a" stroke-width="1.15"/>
<rect x="130.8" y="224.5" width="10.5" height="5.8" fill="#fff" stroke="#222" stroke-width="1.4"/>
<line x1="134.0" y1="224.5" x2="134.0" y2="230.3" stroke="#333" stroke-width="1.6"/>
<circle cx="128.2" cy="227.4" r="2.45" fill="#b83034" stroke="#222" stroke-width="0.6"/>
<circle cx="134.0" cy="227.4" r="2.45" fill="#bf3f40" stroke="#222" stroke-width="0.6"/>
<circle cx="149.7" cy="227.4" r="2.45" fill="#d46b64" stroke="#222" stroke-width="0.6"/>
<polygon points="101.40,231.10 100.42,228.75 97.88,228.54 99.82,226.89 99.23,224.41 101.40,225.74 103.57,224.41 102.98,226.89 104.92,228.54 102.38,228.75" fill="#14a898" stroke="#111" stroke-width="0.9" stroke-linejoin="miter"/>
<text transform="translate(123.80,230.20) scale(0.94,1)" x="0" y="0" font-size="7.95" text-anchor="end" fill="#232323" stroke="#232323" stroke-width="0.04"><tspan style="font-style:italic">hdrA</tspan></text>
<line x1="130.0" y1="235.2" x2="152.2" y2="235.2" stroke="#2a2a2a" stroke-width="1.15"/>
<rect x="132.6" y="232.2" width="10.4" height="5.8" fill="#fff" stroke="#222" stroke-width="1.4"/>
<line x1="135.0" y1="232.2" x2="135.0" y2="238.1" stroke="#333" stroke-width="1.6"/>
<circle cx="130.0" cy="235.2" r="2.45" fill="#ba3437" stroke="#222" stroke-width="0.6"/>
<circle cx="134.7" cy="235.2" r="2.45" fill="#c04142" stroke="#222" stroke-width="0.6"/>
<circle cx="152.2" cy="235.2" r="2.45" fill="#d7726b" stroke="#222" stroke-width="0.6"/>
<text transform="translate(122.60,237.95) scale(0.94,1)" x="0" y="0" font-size="7.95" text-anchor="end" fill="#232323" stroke="#232323" stroke-width="0.04"><tspan style="font-style:italic">flxD</tspan></text>
<line x1="126.8" y1="242.9" x2="177.2" y2="242.9" stroke="#2a2a2a" stroke-width="1.15"/>
<rect x="135.7" y="240.0" width="20.0" height="5.8" fill="#fff" stroke="#222" stroke-width="1.4"/>
<line x1="144.0" y1="240.0" x2="144.0" y2="245.8" stroke="#333" stroke-width="1.6"/>
<circle cx="126.8" cy="242.9" r="2.45" fill="#b72e33" stroke="#222" stroke-width="0.6"/>
<circle cx="137.8" cy="242.9" r="2.45" fill="#c54948" stroke="#222" stroke-width="0.6"/>
<circle cx="147.4" cy="242.9" r="2.45" fill="#d1645f" stroke="#222" stroke-width="0.6"/>
<circle cx="177.2" cy="242.9" r="2.45" fill="#f2c3bb" stroke="#222" stroke-width="0.6"/>
<text transform="translate(122.60,245.70) scale(0.94,1)" x="0" y="0" font-size="7.95" text-anchor="end" fill="#232323" stroke="#232323" stroke-width="0.04"><tspan style="font-style:italic">flxC</tspan></text>
<line x1="124.7" y1="250.7" x2="148.3" y2="250.7" stroke="#2a2a2a" stroke-width="1.15"/>
<rect x="132.6" y="247.8" width="13.1" height="5.8" fill="#fff" stroke="#222" stroke-width="1.4"/>
<line x1="142.0" y1="247.8" x2="142.0" y2="253.6" stroke="#333" stroke-width="1.6"/>
<circle cx="124.7" cy="250.7" r="2.45" fill="#b52c32" stroke="#222" stroke-width="0.6"/>
<circle cx="141.0" cy="250.7" r="2.45" fill="#c95250" stroke="#222" stroke-width="0.6"/>
<circle cx="148.3" cy="250.7" r="2.45" fill="#d26761" stroke="#222" stroke-width="0.6"/>
<polygon points="101.90,254.35 100.92,252.00 98.38,251.79 100.32,250.14 99.73,247.66 101.90,248.99 104.07,247.66 103.48,250.14 105.42,251.79 102.88,252.00" fill="#14a898" stroke="#111" stroke-width="0.9" stroke-linejoin="miter"/>
<text transform="translate(120.00,253.45) scale(0.94,1)" x="0" y="0" font-size="7.95" text-anchor="end" fill="#232323" stroke="#232323" stroke-width="0.04"><tspan style="font-style:italic">flxB</tspan></text>
<line x1="129.4" y1="258.4" x2="149.7" y2="258.4" stroke="#2a2a2a" stroke-width="1.15"/>
<rect x="137.8" y="255.5" width="9.6" height="5.8" fill="#fff" stroke="#222" stroke-width="1.4"/>
<line x1="145.0" y1="255.5" x2="145.0" y2="261.3" stroke="#333" stroke-width="1.6"/>
<circle cx="129.4" cy="258.4" r="2.45" fill="#b93236" stroke="#222" stroke-width="0.6"/>
<circle cx="145.2" cy="258.4" r="2.45" fill="#ce5d59" stroke="#222" stroke-width="0.6"/>
<circle cx="149.7" cy="258.4" r="2.45" fill="#d46b64" stroke="#222" stroke-width="0.6"/>
<polygon points="102.40,262.10 101.42,259.75 98.88,259.54 100.82,257.89 100.23,255.41 102.40,256.73 104.57,255.41 103.98,257.89 105.92,259.54 103.38,259.75" fill="#14a898" stroke="#111" stroke-width="0.9" stroke-linejoin="miter"/>
<text transform="translate(120.60,261.20) scale(0.94,1)" x="0" y="0" font-size="7.95" text-anchor="end" fill="#232323" stroke="#232323" stroke-width="0.04"><tspan style="font-style:italic">flxA</tspan></text>
<line x1="119.4" y1="266.1" x2="139.9" y2="266.1" stroke="#2a2a2a" stroke-width="1.15"/>
<rect x="129.0" y="263.2" width="8.8" height="5.8" fill="#fff" stroke="#222" stroke-width="1.4"/>
<line x1="134.0" y1="263.2" x2="134.0" y2="269.0" stroke="#333" stroke-width="1.6"/>
<circle cx="119.4" cy="266.1" r="2.45" fill="#b12730" stroke="#222" stroke-width="0.6"/>
<circle cx="139.9" cy="266.1" r="2.45" fill="#c74f4d" stroke="#222" stroke-width="0.6"/>
<text transform="translate(114.20,268.95) scale(0.94,1)" x="0" y="0" font-size="7.95" text-anchor="end" fill="#232323" stroke="#232323" stroke-width="0.04"><tspan style="font-style:italic">acnA</tspan></text>
<line x1="122.6" y1="273.9" x2="148.3" y2="273.9" stroke="#2a2a2a" stroke-width="1.15"/>
<rect x="131.7" y="271.0" width="13.1" height="5.8" fill="#fff" stroke="#222" stroke-width="1.4"/>
<line x1="142.0" y1="271.0" x2="142.0" y2="276.8" stroke="#333" stroke-width="1.6"/>
<circle cx="122.6" cy="273.9" r="2.45" fill="#b42a31" stroke="#222" stroke-width="0.6"/>
<circle cx="142.2" cy="273.9" r="2.45" fill="#ca5552" stroke="#222" stroke-width="0.6"/>
<circle cx="148.3" cy="273.9" r="2.45" fill="#d26761" stroke="#222" stroke-width="0.6"/>
<polygon points="94.40,277.60 93.42,275.25 90.88,275.04 92.82,273.39 92.23,270.91 94.40,272.23 96.57,270.91 95.98,273.39 97.92,275.04 95.38,275.25" fill="#14a898" stroke="#111" stroke-width="0.9" stroke-linejoin="miter"/>
<text transform="translate(115.90,276.70) scale(0.94,1)" x="0" y="0" font-size="7.95" text-anchor="end" fill="#232323" stroke="#232323" stroke-width="0.04"><tspan style="font-style:italic">aclB</tspan></text>
<line x1="120.6" y1="281.6" x2="145.7" y2="281.6" stroke="#2a2a2a" stroke-width="1.15"/>
<rect x="130.3" y="278.8" width="11.9" height="5.8" fill="#fff" stroke="#222" stroke-width="1.4"/>
<line x1="139.0" y1="278.8" x2="139.0" y2="284.5" stroke="#333" stroke-width="1.6"/>
<circle cx="120.6" cy="281.6" r="2.45" fill="#b22830" stroke="#222" stroke-width="0.6"/>
<circle cx="139.2" cy="281.6" r="2.45" fill="#c64d4c" stroke="#222" stroke-width="0.6"/>
<circle cx="145.7" cy="281.6" r="2.45" fill="#cf5f5a" stroke="#222" stroke-width="0.6"/>
<text transform="translate(115.90,284.45) scale(0.94,1)" x="0" y="0" font-size="7.95" text-anchor="end" fill="#232323" stroke="#232323" stroke-width="0.04"><tspan style="font-style:italic">aclA</tspan></text>
<line x1="140.4" y1="289.4" x2="168.5" y2="289.4" stroke="#2a2a2a" stroke-width="1.15"/>
<rect x="151.8" y="286.5" width="11.4" height="5.8" fill="#fff" stroke="#222" stroke-width="1.4"/>
<line x1="163.0" y1="286.5" x2="163.0" y2="292.3" stroke="#333" stroke-width="1.6"/>
<circle cx="140.4" cy="289.4" r="2.45" fill="#c8504e" stroke="#222" stroke-width="0.6"/>
<circle cx="164.6" cy="289.4" r="2.45" fill="#e5998e" stroke="#222" stroke-width="0.6"/>
<circle cx="168.5" cy="289.4" r="2.45" fill="#e9a69c" stroke="#222" stroke-width="0.6"/>
<polygon points="94.40,293.10 93.42,290.75 90.88,290.54 92.82,288.89 92.23,286.41 94.40,287.73 96.57,286.41 95.98,288.89 97.92,290.54 95.38,290.75" fill="#14a898" stroke="#111" stroke-width="0.9" stroke-linejoin="miter"/>
<text transform="translate(125.90,292.20) scale(0.94,1)" x="0" y="0" font-size="7.95" text-anchor="end" fill="#232323" stroke="#232323" stroke-width="0.04"><tspan style="font-style:italic">korB</tspan>(2)</text>
<line x1="139.2" y1="297.1" x2="163.2" y2="297.1" stroke="#2a2a2a" stroke-width="1.15"/>
<rect x="149.7" y="294.2" width="10.0" height="5.8" fill="#fff" stroke="#222" stroke-width="1.4"/>
<line x1="159.0" y1="294.2" x2="159.0" y2="300.0" stroke="#333" stroke-width="1.6"/>
<circle cx="139.2" cy="297.1" r="2.45" fill="#c64d4c" stroke="#222" stroke-width="0.6"/>
<circle cx="160.9" cy="297.1" r="2.45" fill="#e28d81" stroke="#222" stroke-width="0.6"/>
<circle cx="163.2" cy="297.1" r="2.45" fill="#e49589" stroke="#222" stroke-width="0.6"/>
<polygon points="94.90,300.85 93.92,298.50 91.38,298.29 93.32,296.64 92.73,294.16 94.90,295.48 97.07,294.16 96.48,296.64 98.42,298.29 95.88,298.50" fill="#14a898" stroke="#111" stroke-width="0.9" stroke-linejoin="miter"/>
<text transform="translate(127.00,299.95) scale(0.94,1)" x="0" y="0" font-size="7.95" text-anchor="end" fill="#232323" stroke="#232323" stroke-width="0.04"><tspan style="font-style:italic">korA</tspan>(2)</text>
<line x1="228.2" y1="304.9" x2="239.9" y2="304.9" stroke="#2a2a2a" stroke-width="1.15"/>
<rect x="230.8" y="302.0" width="10.5" height="5.8" fill="#fff" stroke="#222" stroke-width="1.4"/>
<line x1="235.0" y1="302.0" x2="235.0" y2="307.8" stroke="#333" stroke-width="1.6"/>
<circle cx="228.2" cy="304.9" r="2.45" fill="#89a4d6" stroke="#222" stroke-width="0.6"/>
<circle cx="232.2" cy="304.9" r="2.45" fill="#7e9cd1" stroke="#222" stroke-width="0.6"/>
<circle cx="237.8" cy="304.9" r="2.45" fill="#6e8fca" stroke="#222" stroke-width="0.6"/>
<circle cx="239.9" cy="304.9" r="2.45" fill="#698bc8" stroke="#222" stroke-width="0.6"/>
<text transform="translate(222.90,307.70) scale(0.94,1)" x="0" y="0" font-size="7.95" text-anchor="end" fill="#232323" stroke="#232323" stroke-width="0.04"><tspan style="font-style:italic">korB</tspan>(3)</text>
<line x1="230.8" y1="312.6" x2="248.3" y2="312.6" stroke="#2a2a2a" stroke-width="1.15"/>
<rect x="234.3" y="309.8" width="12.3" height="5.8" fill="#fff" stroke="#222" stroke-width="1.4"/>
<line x1="240.0" y1="309.8" x2="240.0" y2="315.5" stroke="#333" stroke-width="1.6"/>
<circle cx="214.2" cy="312.6" r="2.45" fill="#b2c3e6" stroke="#222" stroke-width="0.6"/>
<circle cx="230.8" cy="312.6" r="2.45" fill="#829fd3" stroke="#222" stroke-width="0.6"/>
<circle cx="236.4" cy="312.6" r="2.45" fill="#7292cc" stroke="#222" stroke-width="0.6"/>
<circle cx="244.8" cy="312.6" r="2.45" fill="#5d82c3" stroke="#222" stroke-width="0.6"/>
<circle cx="248.3" cy="312.6" r="2.45" fill="#577dc0" stroke="#222" stroke-width="0.6"/>
<text transform="translate(207.20,315.45) scale(0.94,1)" x="0" y="0" font-size="7.95" text-anchor="end" fill="#232323" stroke="#232323" stroke-width="0.04"><tspan style="font-style:italic">korA</tspan>(3)</text>
<line x1="215.9" y1="320.4" x2="234.7" y2="320.4" stroke="#2a2a2a" stroke-width="1.15"/>
<rect x="217.7" y="317.5" width="14.0" height="5.8" fill="#fff" stroke="#222" stroke-width="1.4"/>
<line x1="224.0" y1="317.5" x2="224.0" y2="323.3" stroke="#333" stroke-width="1.6"/>
<circle cx="215.9" cy="320.4" r="2.45" fill="#adc0e4" stroke="#222" stroke-width="0.6"/>
<circle cx="220.0" cy="320.4" r="2.45" fill="#a1b7df" stroke="#222" stroke-width="0.6"/>
<circle cx="230.0" cy="320.4" r="2.45" fill="#84a1d4" stroke="#222" stroke-width="0.6"/>
<circle cx="234.7" cy="320.4" r="2.45" fill="#7796ce" stroke="#222" stroke-width="0.6"/>
<text transform="translate(244.00,324.50) scale(0.94,1)" x="0" y="0" font-size="7.95" text-anchor="start" fill="#232323" stroke="#232323" stroke-width="0.04">PFOR-like</text>
<line x1="142.2" y1="328.1" x2="174.3" y2="328.1" stroke="#2a2a2a" stroke-width="1.15"/>
<rect x="152.4" y="325.2" width="14.9" height="5.8" fill="#fff" stroke="#222" stroke-width="1.4"/>
<line x1="160.0" y1="325.2" x2="160.0" y2="331.0" stroke="#333" stroke-width="1.6"/>
<circle cx="142.2" cy="328.1" r="2.45" fill="#ca5552" stroke="#222" stroke-width="0.6"/>
<circle cx="160.6" cy="328.1" r="2.45" fill="#e18c80" stroke="#222" stroke-width="0.6"/>
<circle cx="174.3" cy="328.1" r="2.45" fill="#efb9b0" stroke="#222" stroke-width="0.6"/>
<text transform="translate(135.80,330.95) scale(0.94,1)" x="0" y="0" font-size="7.95" text-anchor="end" fill="#232323" stroke="#232323" stroke-width="0.04">PFOR(3)</text>
<line x1="121.3" y1="346.4" x2="153.0" y2="346.4" stroke="#2a2a2a" stroke-width="1.15"/>
<rect x="125.0" y="343.5" width="15.1" height="5.8" fill="#fff" stroke="#222" stroke-width="1.4"/>
<line x1="132.0" y1="343.5" x2="132.0" y2="349.3" stroke="#333" stroke-width="1.6"/>
<circle cx="121.3" cy="346.4" r="2.45" fill="#b32930" stroke="#222" stroke-width="0.6"/>
<circle cx="127.0" cy="346.4" r="2.45" fill="#b72f33" stroke="#222" stroke-width="0.6"/>
<circle cx="134.0" cy="346.4" r="2.45" fill="#bf3f40" stroke="#222" stroke-width="0.6"/>
<circle cx="153.0" cy="346.4" r="2.45" fill="#d8756d" stroke="#222" stroke-width="0.6"/>
<text transform="translate(118.20,349.20) scale(0.94,1)" x="0" y="0" font-size="7.95" text-anchor="end" fill="#232323" stroke="#232323" stroke-width="0.04"><tspan style="font-style:italic">frdC</tspan></text>
<line x1="87.2" y1="354.4" x2="122.3" y2="354.4" stroke="#2a2a2a" stroke-width="1.15"/>
<rect x="89.0" y="351.5" width="29.2" height="5.8" fill="#fff" stroke="#222" stroke-width="1.4"/>
<line x1="104.0" y1="351.5" x2="104.0" y2="357.3" stroke="#333" stroke-width="1.6"/>
<circle cx="87.2" cy="354.4" r="2.45" fill="#a51c2a" stroke="#222" stroke-width="0.6"/>
<circle cx="91.7" cy="354.4" r="2.45" fill="#a51c2a" stroke="#222" stroke-width="0.6"/>
<circle cx="116.8" cy="354.4" r="2.45" fill="#af252e" stroke="#222" stroke-width="0.6"/>
<circle cx="122.3" cy="354.4" r="2.45" fill="#b32a31" stroke="#222" stroke-width="0.6"/>
<text transform="translate(128.00,357.20) scale(0.94,1)" x="0" y="0" font-size="7.95" text-anchor="start" fill="#232323" stroke="#232323" stroke-width="0.04"><tspan style="font-style:italic">frdB</tspan></text>
<line x1="107.0" y1="395.8" x2="164.6" y2="395.8" stroke="#2a2a2a" stroke-width="1.15"/>
<rect x="117.6" y="392.9" width="34.8" height="5.8" fill="#fff" stroke="#222" stroke-width="1.4"/>
<line x1="134.6" y1="392.9" x2="134.6" y2="398.7" stroke="#333" stroke-width="1.6"/>
<circle cx="107.0" cy="395.8" r="2.45" fill="#aa1f2b" stroke="#222" stroke-width="0.6"/>
<circle cx="120.7" cy="395.8" r="2.45" fill="#b22830" stroke="#222" stroke-width="0.6"/>
<circle cx="149.3" cy="395.8" r="2.45" fill="#d36a63" stroke="#222" stroke-width="0.6"/>
<circle cx="164.6" cy="395.8" r="2.45" fill="#e5998e" stroke="#222" stroke-width="0.6"/>
<polygon points="83.50,399.50 82.52,397.15 79.98,396.94 81.92,395.29 81.33,392.81 83.50,394.13 85.67,392.81 85.08,395.29 87.02,396.94 84.48,397.15" fill="#14a898" stroke="#111" stroke-width="0.9" stroke-linejoin="miter"/>
<text transform="translate(102.90,398.60) scale(0.94,1)" x="0" y="0" font-size="7.95" text-anchor="end" fill="#232323" stroke="#232323" stroke-width="0.04"><tspan style="font-style:italic">hyiB</tspan></text>
<line x1="92.7" y1="403.4" x2="164.2" y2="403.4" stroke="#2a2a2a" stroke-width="1.15"/>
<rect x="106.0" y="400.5" width="35.7" height="5.8" fill="#fff" stroke="#222" stroke-width="1.4"/>
<line x1="121.9" y1="400.5" x2="121.9" y2="406.3" stroke="#333" stroke-width="1.6"/>
<circle cx="92.7" cy="403.4" r="2.45" fill="#a51c2a" stroke="#222" stroke-width="0.6"/>
<circle cx="110.7" cy="403.4" r="2.45" fill="#ab202c" stroke="#222" stroke-width="0.6"/>
<circle cx="133.2" cy="403.4" r="2.45" fill="#be3d3e" stroke="#222" stroke-width="0.6"/>
<circle cx="164.2" cy="403.4" r="2.45" fill="#e5988d" stroke="#222" stroke-width="0.6"/>
<polygon points="70.20,407.10 69.22,404.75 66.68,404.54 68.62,402.89 68.03,400.41 70.20,401.73 72.37,400.41 71.78,402.89 73.72,404.54 71.18,404.75" fill="#14a898" stroke="#111" stroke-width="0.9" stroke-linejoin="miter"/>
<text transform="translate(90.70,406.20) scale(0.94,1)" x="0" y="0" font-size="7.95" text-anchor="end" fill="#232323" stroke="#232323" stroke-width="0.04"><tspan style="font-style:italic">isp1</tspan></text>
<line x1="105.4" y1="410.9" x2="158.1" y2="410.9" stroke="#2a2a2a" stroke-width="1.15"/>
<rect x="115.6" y="408.0" width="29.8" height="5.8" fill="#fff" stroke="#222" stroke-width="1.4"/>
<line x1="130.5" y1="408.0" x2="130.5" y2="413.8" stroke="#333" stroke-width="1.6"/>
<circle cx="105.4" cy="410.9" r="2.45" fill="#a91e2b" stroke="#222" stroke-width="0.6"/>
<circle cx="119.3" cy="410.9" r="2.45" fill="#b1272f" stroke="#222" stroke-width="0.6"/>
<circle cx="139.7" cy="410.9" r="2.45" fill="#c74e4d" stroke="#222" stroke-width="0.6"/>
<circle cx="158.1" cy="410.9" r="2.45" fill="#de857a" stroke="#222" stroke-width="0.6"/>
<polygon points="81.50,414.60 80.52,412.25 77.98,412.04 79.92,410.39 79.33,407.91 81.50,409.23 83.67,407.91 83.08,410.39 85.02,412.04 82.48,412.25" fill="#14a898" stroke="#111" stroke-width="0.9" stroke-linejoin="miter"/>
<text transform="translate(100.90,413.70) scale(0.94,1)" x="0" y="0" font-size="7.95" text-anchor="end" fill="#232323" stroke="#232323" stroke-width="0.04"><tspan style="font-style:italic">isp2</tspan></text>
<line x1="98.4" y1="418.4" x2="175.5" y2="418.4" stroke="#2a2a2a" stroke-width="1.15"/>
<rect x="135.2" y="415.5" width="30.5" height="5.8" fill="#fff" stroke="#222" stroke-width="1.4"/>
<line x1="154.0" y1="415.5" x2="154.0" y2="421.3" stroke="#333" stroke-width="1.6"/>
<circle cx="98.4" cy="418.4" r="2.45" fill="#a61d2a" stroke="#222" stroke-width="0.6"/>
<circle cx="147.5" cy="418.4" r="2.45" fill="#d1645f" stroke="#222" stroke-width="0.6"/>
<circle cx="162.2" cy="418.4" r="2.45" fill="#e39186" stroke="#222" stroke-width="0.6"/>
<circle cx="175.5" cy="418.4" r="2.45" fill="#f0bdb5" stroke="#222" stroke-width="0.6"/>
<polygon points="75.90,422.10 74.92,419.75 72.38,419.54 74.32,417.89 73.73,415.41 75.90,416.73 78.07,415.41 77.48,417.89 79.42,419.54 76.88,419.75" fill="#14a898" stroke="#111" stroke-width="0.9" stroke-linejoin="miter"/>
<text transform="translate(94.70,421.20) scale(0.94,1)" x="0" y="0" font-size="7.95" text-anchor="end" fill="#232323" stroke="#232323" stroke-width="0.04"><tspan style="font-style:italic">hyiA</tspan></text>
<circle cx="127.0" cy="426.2" r="2.45" fill="#b72f33" stroke="#222" stroke-width="0.6"/>
<text transform="translate(120.30,429.00) scale(0.94,1)" x="0" y="0" font-size="7.95" text-anchor="end" fill="#232323" stroke="#232323" stroke-width="0.04"><tspan style="font-style:italic">hupE</tspan></text>
<line x1="103.5" y1="433.9" x2="153.6" y2="433.9" stroke="#2a2a2a" stroke-width="1.15"/>
<rect x="127.4" y="431.0" width="23.6" height="5.8" fill="#fff" stroke="#222" stroke-width="1.4"/>
<line x1="148.9" y1="431.0" x2="148.9" y2="436.8" stroke="#333" stroke-width="1.6"/>
<circle cx="103.5" cy="433.9" r="2.45" fill="#a81e2b" stroke="#222" stroke-width="0.6"/>
<circle cx="121.9" cy="433.9" r="2.45" fill="#b32a31" stroke="#222" stroke-width="0.6"/>
<circle cx="145.8" cy="433.9" r="2.45" fill="#cf5f5a" stroke="#222" stroke-width="0.6"/>
<circle cx="153.6" cy="433.9" r="2.45" fill="#d9776e" stroke="#222" stroke-width="0.6"/>
<text transform="translate(160.10,436.70) scale(0.94,1)" x="0" y="0" font-size="7.95" text-anchor="start" fill="#232323" stroke="#232323" stroke-width="0.04">hypothetical</text>
<line x1="136.5" y1="455.3" x2="168.9" y2="455.3" stroke="#2a2a2a" stroke-width="1.15"/>
<rect x="145.3" y="452.4" width="9.9" height="5.8" fill="#fff" stroke="#222" stroke-width="1.4"/>
<line x1="150.0" y1="452.4" x2="150.0" y2="458.2" stroke="#333" stroke-width="1.6"/>
<circle cx="136.5" cy="455.3" r="2.45" fill="#c34646" stroke="#222" stroke-width="0.6"/>
<circle cx="147.4" cy="455.3" r="2.45" fill="#d1645f" stroke="#222" stroke-width="0.6"/>
<circle cx="151.1" cy="455.3" r="2.45" fill="#d66f68" stroke="#222" stroke-width="0.6"/>
<circle cx="168.9" cy="455.3" r="2.45" fill="#eaa79d" stroke="#222" stroke-width="0.6"/>
<text transform="translate(132.40,458.10) scale(0.94,1)" x="0" y="0" font-size="7.95" text-anchor="end" fill="#232323" stroke="#232323" stroke-width="0.04"><tspan style="font-style:italic">norD</tspan>(2)</text>
<line x1="155.9" y1="463.1" x2="173.7" y2="463.1" stroke="#2a2a2a" stroke-width="1.15"/>
<rect x="158.4" y="460.2" width="8.8" height="5.8" fill="#fff" stroke="#222" stroke-width="1.4"/>
<line x1="163.0" y1="460.2" x2="163.0" y2="466.0" stroke="#333" stroke-width="1.6"/>
<circle cx="155.9" cy="463.1" r="2.45" fill="#dc7e74" stroke="#222" stroke-width="0.6"/>
<circle cx="162.8" cy="463.1" r="2.45" fill="#e49388" stroke="#222" stroke-width="0.6"/>
<circle cx="173.7" cy="463.1" r="2.45" fill="#eeb7ae" stroke="#222" stroke-width="0.6"/>
<text transform="translate(138.20,465.90) scale(0.94,1)" x="0" y="0" font-size="7.95" text-anchor="end" fill="#232323" stroke="#232323" stroke-width="0.04"><tspan style="font-style:italic">norB</tspan>(1)</text>
<line x1="155.5" y1="470.8" x2="173.3" y2="470.8" stroke="#2a2a2a" stroke-width="1.15"/>
<rect x="158.4" y="467.9" width="9.0" height="5.8" fill="#fff" stroke="#222" stroke-width="1.4"/>
<line x1="162.0" y1="467.9" x2="162.0" y2="473.7" stroke="#333" stroke-width="1.6"/>
<circle cx="155.5" cy="470.8" r="2.45" fill="#db7d73" stroke="#222" stroke-width="0.6"/>
<circle cx="163.8" cy="470.8" r="2.45" fill="#e5978b" stroke="#222" stroke-width="0.6"/>
<circle cx="173.3" cy="470.8" r="2.45" fill="#eeb6ad" stroke="#222" stroke-width="0.6"/>
<text transform="translate(139.40,473.60) scale(0.94,1)" x="0" y="0" font-size="7.95" text-anchor="end" fill="#232323" stroke="#232323" stroke-width="0.04"><tspan style="font-style:italic">norB</tspan>(2)</text>
<line x1="142.3" y1="478.4" x2="163.5" y2="478.4" stroke="#2a2a2a" stroke-width="1.15"/>
<rect x="146.0" y="475.5" width="12.4" height="5.8" fill="#fff" stroke="#222" stroke-width="1.4"/>
<line x1="151.0" y1="475.5" x2="151.0" y2="481.3" stroke="#333" stroke-width="1.6"/>
<circle cx="142.3" cy="478.4" r="2.45" fill="#cb5552" stroke="#222" stroke-width="0.6"/>
<circle cx="147.0" cy="478.4" r="2.45" fill="#d1635e" stroke="#222" stroke-width="0.6"/>
<circle cx="154.9" cy="478.4" r="2.45" fill="#da7b72" stroke="#222" stroke-width="0.6"/>
<circle cx="163.5" cy="478.4" r="2.45" fill="#e4968a" stroke="#222" stroke-width="0.6"/>
<text transform="translate(133.60,481.20) scale(0.94,1)" x="0" y="0" font-size="7.95" text-anchor="end" fill="#232323" stroke="#232323" stroke-width="0.04"><tspan style="font-style:italic">nirS</tspan></text>
<line x1="140.6" y1="486.2" x2="158.4" y2="486.2" stroke="#2a2a2a" stroke-width="1.15"/>
<rect x="147.4" y="483.3" width="8.8" height="5.8" fill="#fff" stroke="#222" stroke-width="1.4"/>
<line x1="153.0" y1="483.3" x2="153.0" y2="489.1" stroke="#333" stroke-width="1.6"/>
<circle cx="140.6" cy="486.2" r="2.45" fill="#c8514f" stroke="#222" stroke-width="0.6"/>
<circle cx="154.3" cy="486.2" r="2.45" fill="#da7970" stroke="#222" stroke-width="0.6"/>
<circle cx="158.4" cy="486.2" r="2.45" fill="#df857b" stroke="#222" stroke-width="0.6"/>
<text transform="translate(135.00,489.00) scale(0.94,1)" x="0" y="0" font-size="7.95" text-anchor="end" fill="#232323" stroke="#232323" stroke-width="0.04"><tspan style="font-style:italic">napG</tspan></text>
<line x1="244.9" y1="494.3" x2="297.4" y2="494.3" stroke="#2a2a2a" stroke-width="1.15"/>
<rect x="270.9" y="491.4" width="23.7" height="5.8" fill="#fff" stroke="#222" stroke-width="1.4"/>
<line x1="284.3" y1="491.4" x2="284.3" y2="497.2" stroke="#333" stroke-width="1.6"/>
<circle cx="244.9" cy="494.3" r="2.45" fill="#5d82c3" stroke="#222" stroke-width="0.6"/>
<circle cx="280.0" cy="494.3" r="2.45" fill="#3862ae" stroke="#222" stroke-width="0.6"/>
<circle cx="293.1" cy="494.3" r="2.45" fill="#345eaa" stroke="#222" stroke-width="0.6"/>
<circle cx="297.4" cy="494.3" r="2.45" fill="#345eaa" stroke="#222" stroke-width="0.6"/>
<text transform="translate(237.70,497.10) scale(0.94,1)" x="0" y="0" font-size="7.95" text-anchor="end" fill="#232323" stroke="#232323" stroke-width="0.04"><tspan style="font-style:italic">nirB</tspan></text>
<line x1="254.0" y1="501.9" x2="277.9" y2="501.9" stroke="#2a2a2a" stroke-width="1.15"/>
<rect x="264.1" y="499.0" width="11.0" height="5.8" fill="#fff" stroke="#222" stroke-width="1.4"/>
<line x1="273.0" y1="499.0" x2="273.0" y2="504.8" stroke="#333" stroke-width="1.6"/>
<circle cx="254.0" cy="501.9" r="2.45" fill="#4e76bc" stroke="#222" stroke-width="0.6"/>
<circle cx="273.7" cy="501.9" r="2.45" fill="#3b65b1" stroke="#222" stroke-width="0.6"/>
<circle cx="277.9" cy="501.9" r="2.45" fill="#3963af" stroke="#222" stroke-width="0.6"/>
<text transform="translate(237.70,504.70) scale(0.94,1)" x="0" y="0" font-size="7.95" text-anchor="end" fill="#232323" stroke="#232323" stroke-width="0.04"><tspan style="font-style:italic">glnL</tspan></text>
<line x1="146.7" y1="545.1" x2="168.6" y2="545.1" stroke="#2a2a2a" stroke-width="1.15"/>
<rect x="149.0" y="542.2" width="16.7" height="5.8" fill="#fff" stroke="#222" stroke-width="1.4"/>
<line x1="158.0" y1="542.2" x2="158.0" y2="548.0" stroke="#333" stroke-width="1.6"/>
<circle cx="146.7" cy="545.1" r="2.45" fill="#d0625d" stroke="#222" stroke-width="0.6"/>
<circle cx="152.8" cy="545.1" r="2.45" fill="#d8746c" stroke="#222" stroke-width="0.6"/>
<circle cx="162.2" cy="545.1" r="2.45" fill="#e39186" stroke="#222" stroke-width="0.6"/>
<circle cx="168.6" cy="545.1" r="2.45" fill="#e9a69c" stroke="#222" stroke-width="0.6"/>
<text transform="translate(142.60,547.90) scale(0.94,1)" x="0" y="0" font-size="7.95" text-anchor="end" fill="#232323" stroke="#232323" stroke-width="0.04"><tspan style="font-style:italic">fusA</tspan>(2)</text>
<circle cx="215.5" cy="552.8" r="2.45" fill="#afc0e4" stroke="#222" stroke-width="0.6"/>
<text transform="translate(204.50,555.62) scale(0.94,1)" x="0" y="0" font-size="7.95" text-anchor="end" fill="#232323" stroke="#232323" stroke-width="0.04"><tspan style="font-style:italic">mcrA</tspan></text>
<line x1="211.1" y1="560.5" x2="232.0" y2="560.5" stroke="#2a2a2a" stroke-width="1.15"/>
<rect x="211.8" y="557.6" width="17.1" height="5.8" fill="#fff" stroke="#222" stroke-width="1.4"/>
<line x1="219.1" y1="557.6" x2="219.1" y2="563.4" stroke="#333" stroke-width="1.6"/>
<circle cx="211.1" cy="560.5" r="2.45" fill="#bccae9" stroke="#222" stroke-width="0.6"/>
<circle cx="214.3" cy="560.5" r="2.45" fill="#b2c3e6" stroke="#222" stroke-width="0.6"/>
<circle cx="228.6" cy="560.5" r="2.45" fill="#88a4d6" stroke="#222" stroke-width="0.6"/>
<circle cx="232.0" cy="560.5" r="2.45" fill="#7f9cd1" stroke="#222" stroke-width="0.6"/>
<polygon points="176.40,564.24 175.42,561.89 172.88,561.68 174.82,560.03 174.23,557.55 176.40,558.88 178.57,557.55 177.98,560.03 179.92,561.68 177.38,561.89" fill="#14a898" stroke="#111" stroke-width="0.9" stroke-linejoin="miter"/>
<text transform="translate(207.00,563.34) scale(0.94,1)" x="0" y="0" font-size="7.95" text-anchor="end" fill="#232323" stroke="#232323" stroke-width="0.04"><tspan style="font-style:italic">fusA</tspan>(3)</text>
<line x1="210.4" y1="568.3" x2="237.1" y2="568.3" stroke="#2a2a2a" stroke-width="1.15"/>
<rect x="218.4" y="565.4" width="17.5" height="5.8" fill="#fff" stroke="#222" stroke-width="1.4"/>
<line x1="227.9" y1="565.4" x2="227.9" y2="571.2" stroke="#333" stroke-width="1.6"/>
<circle cx="210.4" cy="568.3" r="2.45" fill="#beccea" stroke="#222" stroke-width="0.6"/>
<circle cx="219.9" cy="568.3" r="2.45" fill="#a2b7df" stroke="#222" stroke-width="0.6"/>
<circle cx="237.1" cy="568.3" r="2.45" fill="#7091cb" stroke="#222" stroke-width="0.6"/>
<text transform="translate(207.90,571.06) scale(0.94,1)" x="0" y="0" font-size="7.95" text-anchor="end" fill="#232323" stroke="#232323" stroke-width="0.04"><tspan style="font-style:italic">fusA</tspan>(1)</text>
<line x1="218.4" y1="576.0" x2="231.8" y2="576.0" stroke="#2a2a2a" stroke-width="1.15"/>
<rect x="222.0" y="573.1" width="7.8" height="5.8" fill="#fff" stroke="#222" stroke-width="1.4"/>
<line x1="226.0" y1="573.1" x2="226.0" y2="578.9" stroke="#333" stroke-width="1.6"/>
<circle cx="218.4" cy="576.0" r="2.45" fill="#a6bae1" stroke="#222" stroke-width="0.6"/>
<circle cx="226.9" cy="576.0" r="2.45" fill="#8da7d8" stroke="#222" stroke-width="0.6"/>
<circle cx="231.8" cy="576.0" r="2.45" fill="#7f9dd2" stroke="#222" stroke-width="0.6"/>
<text transform="translate(215.20,578.78) scale(0.94,1)" x="0" y="0" font-size="7.95" text-anchor="end" fill="#232323" stroke="#232323" stroke-width="0.04"><tspan style="font-style:italic">trmD</tspan></text>
<line x1="211.8" y1="583.7" x2="248.8" y2="583.7" stroke="#2a2a2a" stroke-width="1.15"/>
<rect x="226.4" y="580.8" width="13.9" height="5.8" fill="#fff" stroke="#222" stroke-width="1.4"/>
<line x1="233.0" y1="580.8" x2="233.0" y2="586.6" stroke="#333" stroke-width="1.6"/>
<circle cx="211.8" cy="583.7" r="2.45" fill="#b9c9e8" stroke="#222" stroke-width="0.6"/>
<circle cx="230.4" cy="583.7" r="2.45" fill="#83a0d3" stroke="#222" stroke-width="0.6"/>
<circle cx="236.6" cy="583.7" r="2.45" fill="#7292cc" stroke="#222" stroke-width="0.6"/>
<circle cx="248.8" cy="583.7" r="2.45" fill="#577dc0" stroke="#222" stroke-width="0.6"/>
<text transform="translate(210.40,586.50) scale(0.94,1)" x="0" y="0" font-size="7.95" text-anchor="end" fill="#232323" stroke="#232323" stroke-width="0.04"><tspan style="font-style:italic">rimP</tspan></text>
<line x1="227.9" y1="591.4" x2="231.5" y2="591.4" stroke="#2a2a2a" stroke-width="1.15"/>
<rect x="228.0" y="588.5" width="3.0" height="5.8" fill="#fff" stroke="#222" stroke-width="1.4"/>
<line x1="229.5" y1="588.5" x2="229.5" y2="594.3" stroke="#333" stroke-width="1.6"/>
<circle cx="227.9" cy="591.4" r="2.45" fill="#8aa5d6" stroke="#222" stroke-width="0.6"/>
<circle cx="231.5" cy="591.4" r="2.45" fill="#809dd2" stroke="#222" stroke-width="0.6"/>
<text transform="translate(224.20,594.22) scale(0.94,1)" x="0" y="0" font-size="7.95" text-anchor="end" fill="#232323" stroke="#232323" stroke-width="0.04"><tspan style="font-style:italic">rho</tspan></text>
<line x1="224.2" y1="599.1" x2="238.1" y2="599.1" stroke="#2a2a2a" stroke-width="1.15"/>
<rect x="224.2" y="596.2" width="10.3" height="5.8" fill="#fff" stroke="#222" stroke-width="1.4"/>
<line x1="229.0" y1="596.2" x2="229.0" y2="602.0" stroke="#333" stroke-width="1.6"/>
<circle cx="215.5" cy="599.1" r="2.45" fill="#afc0e4" stroke="#222" stroke-width="0.6"/>
<circle cx="229.3" cy="599.1" r="2.45" fill="#86a2d5" stroke="#222" stroke-width="0.6"/>
<circle cx="234.5" cy="599.1" r="2.45" fill="#7897ce" stroke="#222" stroke-width="0.6"/>
<circle cx="238.1" cy="599.1" r="2.45" fill="#6e8fca" stroke="#222" stroke-width="0.6"/>
<text transform="translate(207.00,601.94) scale(0.94,1)" x="0" y="0" font-size="7.95" text-anchor="end" fill="#232323" stroke="#232323" stroke-width="0.04"><tspan style="font-style:italic">rhlE</tspan></text>
<line x1="136.0" y1="606.9" x2="170.8" y2="606.9" stroke="#2a2a2a" stroke-width="1.15"/>
<rect x="137.7" y="604.0" width="16.7" height="5.8" fill="#fff" stroke="#222" stroke-width="1.4"/>
<line x1="142.0" y1="604.0" x2="142.0" y2="609.8" stroke="#333" stroke-width="1.6"/>
<circle cx="136.0" cy="606.9" r="2.45" fill="#c24445" stroke="#222" stroke-width="0.6"/>
<circle cx="138.7" cy="606.9" r="2.45" fill="#c64b4a" stroke="#222" stroke-width="0.6"/>
<circle cx="147.5" cy="606.9" r="2.45" fill="#d1645f" stroke="#222" stroke-width="0.6"/>
<circle cx="170.8" cy="606.9" r="2.45" fill="#ebaea4" stroke="#222" stroke-width="0.6"/>
<text transform="translate(129.90,609.66) scale(0.94,1)" x="0" y="0" font-size="7.95" text-anchor="end" fill="#232323" stroke="#232323" stroke-width="0.04"><tspan style="font-style:italic">recN</tspan></text>
<line x1="147.5" y1="614.6" x2="175.5" y2="614.6" stroke="#2a2a2a" stroke-width="1.15"/>
<rect x="151.0" y="611.7" width="15.7" height="5.8" fill="#fff" stroke="#222" stroke-width="1.4"/>
<line x1="158.0" y1="611.7" x2="158.0" y2="617.5" stroke="#333" stroke-width="1.6"/>
<circle cx="147.5" cy="614.6" r="2.45" fill="#d1645f" stroke="#222" stroke-width="0.6"/>
<circle cx="153.0" cy="614.6" r="2.45" fill="#d8756d" stroke="#222" stroke-width="0.6"/>
<circle cx="163.2" cy="614.6" r="2.45" fill="#e49589" stroke="#222" stroke-width="0.6"/>
<circle cx="175.5" cy="614.6" r="2.45" fill="#f0bdb5" stroke="#222" stroke-width="0.6"/>
<text transform="translate(142.80,617.38) scale(0.94,1)" x="0" y="0" font-size="7.95" text-anchor="end" fill="#232323" stroke="#232323" stroke-width="0.04">U32-peptidase</text>
<line x1="211.1" y1="622.3" x2="248.3" y2="622.3" stroke="#2a2a2a" stroke-width="1.15"/>
<rect x="226.4" y="619.4" width="14.3" height="5.8" fill="#fff" stroke="#222" stroke-width="1.4"/>
<line x1="232.0" y1="619.4" x2="232.0" y2="625.2" stroke="#333" stroke-width="1.6"/>
<circle cx="211.1" cy="622.3" r="2.45" fill="#bccae9" stroke="#222" stroke-width="0.6"/>
<circle cx="225.8" cy="622.3" r="2.45" fill="#90aad9" stroke="#222" stroke-width="0.6"/>
<circle cx="231.9" cy="622.3" r="2.45" fill="#7f9cd2" stroke="#222" stroke-width="0.6"/>
<circle cx="240.7" cy="622.3" r="2.45" fill="#6689c7" stroke="#222" stroke-width="0.6"/>
<circle cx="248.3" cy="622.3" r="2.45" fill="#577dc0" stroke="#222" stroke-width="0.6"/>
<text transform="translate(207.40,625.10) scale(0.94,1)" x="0" y="0" font-size="7.95" text-anchor="end" fill="#232323" stroke="#232323" stroke-width="0.04"><tspan style="font-style:italic">nusA</tspan></text>
<line x1="96.4" y1="630.0" x2="154.6" y2="630.0" stroke="#2a2a2a" stroke-width="1.15"/>
<rect x="110.7" y="627.1" width="31.5" height="5.8" fill="#fff" stroke="#222" stroke-width="1.4"/>
<line x1="126.4" y1="627.1" x2="126.4" y2="632.9" stroke="#333" stroke-width="1.6"/>
<circle cx="96.4" cy="630.0" r="2.45" fill="#a51c2a" stroke="#222" stroke-width="0.6"/>
<circle cx="114.8" cy="630.0" r="2.45" fill="#ae232d" stroke="#222" stroke-width="0.6"/>
<circle cx="136.0" cy="630.0" r="2.45" fill="#c24445" stroke="#222" stroke-width="0.6"/>
<circle cx="154.6" cy="630.0" r="2.45" fill="#da7a71" stroke="#222" stroke-width="0.6"/>
<text transform="translate(90.70,632.82) scale(0.94,1)" x="0" y="0" font-size="7.95" text-anchor="end" fill="#232323" stroke="#232323" stroke-width="0.04"><tspan style="font-style:italic">lbpA</tspan></text>
<line x1="128.0" y1="637.7" x2="154.6" y2="637.7" stroke="#2a2a2a" stroke-width="1.15"/>
<rect x="130.5" y="634.8" width="17.0" height="5.8" fill="#fff" stroke="#222" stroke-width="1.4"/>
<line x1="139.0" y1="634.8" x2="139.0" y2="640.6" stroke="#333" stroke-width="1.6"/>
<circle cx="128.0" cy="637.7" r="2.45" fill="#b83034" stroke="#222" stroke-width="0.6"/>
<circle cx="131.9" cy="637.7" r="2.45" fill="#bd393b" stroke="#222" stroke-width="0.6"/>
<circle cx="145.8" cy="637.7" r="2.45" fill="#cf5f5a" stroke="#222" stroke-width="0.6"/>
<circle cx="154.6" cy="637.7" r="2.45" fill="#da7a71" stroke="#222" stroke-width="0.6"/>
<text transform="translate(123.40,640.54) scale(0.94,1)" x="0" y="0" font-size="7.95" text-anchor="end" fill="#232323" stroke="#232323" stroke-width="0.04"><tspan style="font-style:italic">htpX</tspan></text>
<line x1="161.2" y1="645.5" x2="170.4" y2="645.5" stroke="#2a2a2a" stroke-width="1.15"/>
<rect x="163.0" y="642.6" width="5.0" height="5.8" fill="#fff" stroke="#222" stroke-width="1.4"/>
<line x1="165.5" y1="642.6" x2="165.5" y2="648.4" stroke="#333" stroke-width="1.6"/>
<circle cx="161.2" cy="645.5" r="2.45" fill="#e28e82" stroke="#222" stroke-width="0.6"/>
<circle cx="165.9" cy="645.5" r="2.45" fill="#e79e93" stroke="#222" stroke-width="0.6"/>
<circle cx="170.4" cy="645.5" r="2.45" fill="#ebaca3" stroke="#222" stroke-width="0.6"/>
<text transform="translate(158.50,648.26) scale(0.94,1)" x="0" y="0" font-size="7.95" text-anchor="end" fill="#232323" stroke="#232323" stroke-width="0.04"><tspan style="font-style:italic">holA</tspan></text>
<line x1="149.9" y1="653.2" x2="176.1" y2="653.2" stroke="#2a2a2a" stroke-width="1.15"/>
<rect x="157.7" y="650.3" width="17.2" height="5.8" fill="#fff" stroke="#222" stroke-width="1.4"/>
<line x1="166.0" y1="650.3" x2="166.0" y2="656.1" stroke="#333" stroke-width="1.6"/>
<circle cx="149.9" cy="653.2" r="2.45" fill="#d46b65" stroke="#222" stroke-width="0.6"/>
<circle cx="162.2" cy="653.2" r="2.45" fill="#e39186" stroke="#222" stroke-width="0.6"/>
<circle cx="172.4" cy="653.2" r="2.45" fill="#edb3aa" stroke="#222" stroke-width="0.6"/>
<circle cx="176.1" cy="653.2" r="2.45" fill="#f1bfb7" stroke="#222" stroke-width="0.6"/>
<polygon points="125.00,656.88 124.02,654.53 121.48,654.32 123.42,652.67 122.83,650.19 125.00,651.52 127.17,650.19 126.58,652.67 128.52,654.32 125.98,654.53" fill="#14a898" stroke="#111" stroke-width="0.9" stroke-linejoin="miter"/>
<text transform="translate(143.40,655.98) scale(0.94,1)" x="0" y="0" font-size="7.95" text-anchor="end" fill="#232323" stroke="#232323" stroke-width="0.04"><tspan style="font-style:italic">ftsH</tspan></text>
<line x1="140.7" y1="660.9" x2="170.8" y2="660.9" stroke="#2a2a2a" stroke-width="1.15"/>
<rect x="154.0" y="658.0" width="10.6" height="5.8" fill="#fff" stroke="#222" stroke-width="1.4"/>
<line x1="160.0" y1="658.0" x2="160.0" y2="663.8" stroke="#333" stroke-width="1.6"/>
<circle cx="140.7" cy="660.9" r="2.45" fill="#c8514f" stroke="#222" stroke-width="0.6"/>
<circle cx="157.1" cy="660.9" r="2.45" fill="#dd8177" stroke="#222" stroke-width="0.6"/>
<circle cx="163.2" cy="660.9" r="2.45" fill="#e49589" stroke="#222" stroke-width="0.6"/>
<circle cx="170.8" cy="660.9" r="2.45" fill="#ebaea4" stroke="#222" stroke-width="0.6"/>
<text transform="translate(136.60,663.70) scale(0.94,1)" x="0" y="0" font-size="7.95" text-anchor="end" fill="#232323" stroke="#232323" stroke-width="0.04"><tspan style="font-style:italic">dnaJ</tspan></text>
<line x1="157.1" y1="668.6" x2="172.4" y2="668.6" stroke="#2a2a2a" stroke-width="1.15"/>
<rect x="160.6" y="665.7" width="7.7" height="5.8" fill="#fff" stroke="#222" stroke-width="1.4"/>
<line x1="165.0" y1="665.7" x2="165.0" y2="671.5" stroke="#333" stroke-width="1.6"/>
<circle cx="157.1" cy="668.6" r="2.45" fill="#dd8177" stroke="#222" stroke-width="0.6"/>
<circle cx="164.6" cy="668.6" r="2.45" fill="#e5998e" stroke="#222" stroke-width="0.6"/>
<circle cx="172.4" cy="668.6" r="2.45" fill="#edb3aa" stroke="#222" stroke-width="0.6"/>
<polygon points="128.90,672.32 127.92,669.97 125.38,669.76 127.32,668.11 126.73,665.63 128.90,666.96 131.07,665.63 130.48,668.11 132.42,669.76 129.88,669.97" fill="#14a898" stroke="#111" stroke-width="0.9" stroke-linejoin="miter"/>
<text transform="translate(153.60,671.42) scale(0.94,1)" x="0" y="0" font-size="7.95" text-anchor="end" fill="#232323" stroke="#232323" stroke-width="0.04"><tspan style="font-style:italic">cmoB</tspan></text>
<line x1="114.2" y1="676.3" x2="162.2" y2="676.3" stroke="#2a2a2a" stroke-width="1.15"/>
<rect x="129.5" y="673.4" width="25.5" height="5.8" fill="#fff" stroke="#222" stroke-width="1.4"/>
<line x1="144.0" y1="673.4" x2="144.0" y2="679.2" stroke="#333" stroke-width="1.6"/>
<circle cx="114.2" cy="676.3" r="2.45" fill="#ae222d" stroke="#222" stroke-width="0.6"/>
<circle cx="131.1" cy="676.3" r="2.45" fill="#bb373a" stroke="#222" stroke-width="0.6"/>
<circle cx="144.2" cy="676.3" r="2.45" fill="#cd5a57" stroke="#222" stroke-width="0.6"/>
<circle cx="154.0" cy="676.3" r="2.45" fill="#d97870" stroke="#222" stroke-width="0.6"/>
<circle cx="162.2" cy="676.3" r="2.45" fill="#e39186" stroke="#222" stroke-width="0.6"/>
<text transform="translate(111.10,679.14) scale(0.94,1)" x="0" y="0" font-size="7.95" text-anchor="end" fill="#232323" stroke="#232323" stroke-width="0.04"><tspan style="font-style:italic">clpB</tspan></text>
<line x1="211.3" y1="699.5" x2="233.0" y2="699.5" stroke="#2a2a2a" stroke-width="1.15"/>
<rect x="219.3" y="696.6" width="8.4" height="5.8" fill="#fff" stroke="#222" stroke-width="1.4"/>
<line x1="223.0" y1="696.6" x2="223.0" y2="702.4" stroke="#333" stroke-width="1.6"/>
<circle cx="211.3" cy="699.5" r="2.45" fill="#bbcae9" stroke="#222" stroke-width="0.6"/>
<circle cx="221.4" cy="699.5" r="2.45" fill="#9db3de" stroke="#222" stroke-width="0.6"/>
<circle cx="226.2" cy="699.5" r="2.45" fill="#8fa9d8" stroke="#222" stroke-width="0.6"/>
<circle cx="233.0" cy="699.5" r="2.45" fill="#7c9ad0" stroke="#222" stroke-width="0.6"/>
<text transform="translate(210.00,702.30) scale(0.94,1)" x="0" y="0" font-size="7.95" text-anchor="end" fill="#232323" stroke="#232323" stroke-width="0.04">CTP-synthase</text>
<circle cx="232.2" cy="707.3" r="2.45" fill="#7e9cd1" stroke="#222" stroke-width="0.6"/>
<text transform="translate(225.00,710.10) scale(0.94,1)" x="0" y="0" font-size="7.95" text-anchor="end" fill="#232323" stroke="#232323" stroke-width="0.04"><tspan style="font-style:italic">psrA</tspan></text>
<line x1="149.8" y1="715.0" x2="173.7" y2="715.0" stroke="#2a2a2a" stroke-width="1.15"/>
<rect x="156.8" y="712.1" width="10.5" height="5.8" fill="#fff" stroke="#222" stroke-width="1.4"/>
<line x1="162.0" y1="712.1" x2="162.0" y2="717.9" stroke="#333" stroke-width="1.6"/>
<circle cx="149.8" cy="715.0" r="2.45" fill="#d46b65" stroke="#222" stroke-width="0.6"/>
<circle cx="173.7" cy="715.0" r="2.45" fill="#eeb7ae" stroke="#222" stroke-width="0.6"/>
<text transform="translate(144.50,717.80) scale(0.94,1)" x="0" y="0" font-size="7.95" text-anchor="end" fill="#232323" stroke="#232323" stroke-width="0.04"><tspan style="font-style:italic">moaA</tspan></text>
<line x1="276.3" y1="722.5" x2="302.4" y2="722.5" stroke="#2a2a2a" stroke-width="1.15"/>
<rect x="285.2" y="719.6" width="12.3" height="5.8" fill="#fff" stroke="#222" stroke-width="1.4"/>
<line x1="292.0" y1="719.6" x2="292.0" y2="725.4" stroke="#333" stroke-width="1.6"/>
<circle cx="276.3" cy="722.5" r="2.45" fill="#3a64b0" stroke="#222" stroke-width="0.6"/>
<circle cx="292.0" cy="722.5" r="2.45" fill="#345eaa" stroke="#222" stroke-width="0.6"/>
<circle cx="302.4" cy="722.5" r="2.45" fill="#345eaa" stroke="#222" stroke-width="0.6"/>
<text transform="translate(272.00,725.30) scale(0.94,1)" x="0" y="0" font-size="7.95" text-anchor="end" fill="#232323" stroke="#232323" stroke-width="0.04"><tspan style="font-style:italic">leuC</tspan></text>
<line x1="211.3" y1="730.1" x2="251.8" y2="730.1" stroke="#2a2a2a" stroke-width="1.15"/>
<rect x="212.0" y="727.2" width="33.0" height="5.8" fill="#fff" stroke="#222" stroke-width="1.4"/>
<line x1="227.7" y1="727.2" x2="227.7" y2="733.0" stroke="#333" stroke-width="1.6"/>
<circle cx="211.3" cy="730.1" r="2.45" fill="#bbcae9" stroke="#222" stroke-width="0.6"/>
<circle cx="215.6" cy="730.1" r="2.45" fill="#aec0e4" stroke="#222" stroke-width="0.6"/>
<circle cx="244.5" cy="730.1" r="2.45" fill="#5e82c3" stroke="#222" stroke-width="0.6"/>
<circle cx="251.8" cy="730.1" r="2.45" fill="#5279be" stroke="#222" stroke-width="0.6"/>
<text transform="translate(205.30,732.90) scale(0.94,1)" x="0" y="0" font-size="7.95" text-anchor="end" fill="#232323" stroke="#232323" stroke-width="0.04"><tspan style="font-style:italic">ispB</tspan></text>
<line x1="286.0" y1="750.6" x2="314.4" y2="750.6" stroke="#2a2a2a" stroke-width="1.15"/>
<rect x="286.0" y="747.7" width="18.8" height="5.8" fill="#fff" stroke="#222" stroke-width="1.4"/>
<line x1="293.2" y1="747.7" x2="293.2" y2="753.5" stroke="#333" stroke-width="1.6"/>
<circle cx="286.0" cy="750.6" r="2.45" fill="#3660ac" stroke="#222" stroke-width="0.6"/>
<circle cx="299.2" cy="750.6" r="2.45" fill="#345eaa" stroke="#222" stroke-width="0.6"/>
<circle cx="314.4" cy="750.6" r="2.45" fill="#345eaa" stroke="#222" stroke-width="0.6"/>
<text transform="translate(278.30,753.40) scale(0.94,1)" x="0" y="0" font-size="7.95" text-anchor="end" fill="#232323" stroke="#232323" stroke-width="0.04"><tspan style="font-style:italic">torF</tspan></text>
<line x1="169.3" y1="758.1" x2="176.9" y2="758.1" stroke="#2a2a2a" stroke-width="1.15"/>
<rect x="169.7" y="755.2" width="3.7" height="5.8" fill="#fff" stroke="#222" stroke-width="1.4"/>
<line x1="171.0" y1="755.2" x2="171.0" y2="761.0" stroke="#333" stroke-width="1.6"/>
<circle cx="169.3" cy="758.1" r="2.45" fill="#eaa99f" stroke="#222" stroke-width="0.6"/>
<circle cx="172.0" cy="758.1" r="2.45" fill="#edb2a8" stroke="#222" stroke-width="0.6"/>
<circle cx="176.9" cy="758.1" r="2.45" fill="#f1c2ba" stroke="#222" stroke-width="0.6"/>
<text transform="translate(163.80,760.90) scale(0.94,1)" x="0" y="0" font-size="7.95" text-anchor="end" fill="#232323" stroke="#232323" stroke-width="0.04"><tspan style="font-style:italic">ptsP</tspan></text>
<line x1="121.7" y1="765.7" x2="170.0" y2="765.7" stroke="#2a2a2a" stroke-width="1.15"/>
<rect x="142.8" y="762.8" width="21.8" height="5.8" fill="#fff" stroke="#222" stroke-width="1.4"/>
<line x1="155.0" y1="762.8" x2="155.0" y2="768.6" stroke="#333" stroke-width="1.6"/>
<circle cx="121.7" cy="765.7" r="2.45" fill="#b32931" stroke="#222" stroke-width="0.6"/>
<circle cx="141.7" cy="765.7" r="2.45" fill="#ca5451" stroke="#222" stroke-width="0.6"/>
<circle cx="155.4" cy="765.7" r="2.45" fill="#db7c73" stroke="#222" stroke-width="0.6"/>
<circle cx="164.6" cy="765.7" r="2.45" fill="#e5998e" stroke="#222" stroke-width="0.6"/>
<circle cx="170.0" cy="765.7" r="2.45" fill="#ebaba1" stroke="#222" stroke-width="0.6"/>
<text transform="translate(116.80,768.50) scale(0.94,1)" x="0" y="0" font-size="7.95" text-anchor="end" fill="#232323" stroke="#232323" stroke-width="0.04">OMBP</text>
<line x1="164.6" y1="773.4" x2="176.5" y2="773.4" stroke="#2a2a2a" stroke-width="1.15"/>
<rect x="165.3" y="770.5" width="6.1" height="5.8" fill="#fff" stroke="#222" stroke-width="1.4"/>
<line x1="168.0" y1="770.5" x2="168.0" y2="776.3" stroke="#333" stroke-width="1.6"/>
<circle cx="164.6" cy="773.4" r="2.45" fill="#e5998e" stroke="#222" stroke-width="0.6"/>
<circle cx="166.7" cy="773.4" r="2.45" fill="#e7a096" stroke="#222" stroke-width="0.6"/>
<circle cx="176.5" cy="773.4" r="2.45" fill="#f1c1b8" stroke="#222" stroke-width="0.6"/>
<text transform="translate(159.50,776.20) scale(0.94,1)" x="0" y="0" font-size="7.95" text-anchor="end" fill="#232323" stroke="#232323" stroke-width="0.04"><tspan style="font-style:italic">feoB</tspan></text>
<path d="M83.9,158.2 H73.9 V329.2 H83.9" fill="none" stroke="#333" stroke-width="1.1"/>
<text x="63.9" y="246.3" font-size="7.9" text-anchor="end" fill="#2a2a2a" style="" >rTCA</text>
<path d="M77.7,342.3 H73.9 V362.1 H77.7" fill="none" stroke="#333" stroke-width="1.1"/>
<text x="70.5" y="345.6" font-size="7.9" text-anchor="end" fill="#2a2a2a" style="" >Fumarate reduction/</text>
<text x="70.5" y="354.4" font-size="7.9" text-anchor="end" fill="#2a2a2a" style="" >succinate oxidation</text>
<text x="70.5" y="363.0" font-size="7.9" text-anchor="end" fill="#2a2a2a" style="" >(direction unknown)</text>
<path d="M71.2,394.3 H65.7 V439.3 H71.2" fill="none" stroke="#333" stroke-width="1.1"/>
<text x="62.5" y="413.6" font-size="7.9" text-anchor="end" fill="#2a2a2a" style="" >[NiFe] group 1e</text>
<text x="62.5" y="422.6" font-size="7.9" text-anchor="end" fill="#2a2a2a" style="" >hydrogenase</text>
<path d="M73.2,453.7 H67.7 V487.3 H73.2" fill="none" stroke="#333" stroke-width="1.1"/>
<text x="62.8" y="475.8" font-size="7.9" text-anchor="end" fill="#2a2a2a" style="" >Denitrification</text>
<path d="M73.2,492.6 H67.7 V504.8 H73.2" fill="none" stroke="#333" stroke-width="1.1"/>
<text x="62.8" y="501.2" font-size="7.9" text-anchor="end" fill="#2a2a2a" style="" >Assimilatory</text>
<text x="62.8" y="718.2" font-size="7.9" text-anchor="end" fill="#2a2a2a" style="" >Biosynthesis</text>
<text x="62.8" y="765.2" font-size="7.9" text-anchor="end" fill="#2a2a2a" style="" >Transport</text>
<text x="128.5" y="790.3" font-size="8.2" text-anchor="middle" fill="#333" style="" >4</text>
<text x="193.9" y="790.3" font-size="8.2" text-anchor="middle" fill="#333" style="" >0</text>
<text x="259.3" y="790.3" font-size="8.2" text-anchor="middle" fill="#333" style="" >−4</text>
<text x="324.7" y="790.3" font-size="8.2" text-anchor="middle" fill="#333" style="" >−8</text>
<text x="200.9" y="805.2" font-size="9.0" text-anchor="middle" fill="#222" style="" >Average logFC in significant DE genes in gold and teal</text>
<text x="200.7" y="815.9" font-size="9.2" text-anchor="middle" fill="#222" style="" >modules under sulfide limitation</text>
<text x="353.6" y="164.7" font-size="13.3" text-anchor="start" fill="#000" style="font-weight:bold;" >d</text>
<line x1="357.5" y1="329.3" x2="588" y2="329.3" stroke="#e6e6e6" stroke-width="0.9"/>
<line x1="395.6" y1="332.0" x2="395.6" y2="378.4" stroke="#e6e6e6" stroke-width="0.9"/>
<line x1="432.4" y1="332.0" x2="432.4" y2="378.4" stroke="#e6e6e6" stroke-width="0.9"/>
<line x1="469.1" y1="332.0" x2="469.1" y2="378.4" stroke="#e6e6e6" stroke-width="0.9"/>
<line x1="505.8" y1="332.0" x2="505.8" y2="378.4" stroke="#e6e6e6" stroke-width="0.9"/>
<line x1="542.6" y1="332.0" x2="542.6" y2="378.4" stroke="#e6e6e6" stroke-width="0.9"/>
<line x1="579.3" y1="332.0" x2="579.3" y2="378.4" stroke="#e6e6e6" stroke-width="0.9"/>
<line x1="357.5" y1="343.4" x2="588.0" y2="343.4" stroke="#e6e6e6" stroke-width="0.9"/>
<line x1="357.5" y1="351.1" x2="588.0" y2="351.1" stroke="#e6e6e6" stroke-width="0.9"/>
<line x1="357.5" y1="358.7" x2="588.0" y2="358.7" stroke="#e6e6e6" stroke-width="0.9"/>
<line x1="357.5" y1="366.5" x2="588.0" y2="366.5" stroke="#e6e6e6" stroke-width="0.9"/>
<line x1="357.5" y1="374.3" x2="588.0" y2="374.3" stroke="#e6e6e6" stroke-width="0.9"/>
<line x1="395.6" y1="388.7" x2="395.6" y2="432.1" stroke="#e6e6e6" stroke-width="0.9"/>
<line x1="432.4" y1="388.7" x2="432.4" y2="432.1" stroke="#e6e6e6" stroke-width="0.9"/>
<line x1="469.1" y1="388.7" x2="469.1" y2="432.1" stroke="#e6e6e6" stroke-width="0.9"/>
<line x1="505.8" y1="388.7" x2="505.8" y2="432.1" stroke="#e6e6e6" stroke-width="0.9"/>
<line x1="542.6" y1="388.7" x2="542.6" y2="432.1" stroke="#e6e6e6" stroke-width="0.9"/>
<line x1="579.3" y1="388.7" x2="579.3" y2="432.1" stroke="#e6e6e6" stroke-width="0.9"/>
<line x1="357.5" y1="396.1" x2="588.0" y2="396.1" stroke="#e6e6e6" stroke-width="0.9"/>
<line x1="357.5" y1="403.3" x2="588.0" y2="403.3" stroke="#e6e6e6" stroke-width="0.9"/>
<line x1="357.5" y1="411.3" x2="588.0" y2="411.3" stroke="#e6e6e6" stroke-width="0.9"/>
<line x1="357.5" y1="418.7" x2="588.0" y2="418.7" stroke="#e6e6e6" stroke-width="0.9"/>
<line x1="357.5" y1="426.4" x2="588.0" y2="426.4" stroke="#e6e6e6" stroke-width="0.9"/>
<line x1="395.6" y1="490.1" x2="395.6" y2="515.7" stroke="#e6e6e6" stroke-width="0.9"/>
<line x1="432.4" y1="490.1" x2="432.4" y2="515.7" stroke="#e6e6e6" stroke-width="0.9"/>
<line x1="469.1" y1="490.1" x2="469.1" y2="515.7" stroke="#e6e6e6" stroke-width="0.9"/>
<line x1="505.8" y1="490.1" x2="505.8" y2="515.7" stroke="#e6e6e6" stroke-width="0.9"/>
<line x1="542.6" y1="490.1" x2="542.6" y2="515.7" stroke="#e6e6e6" stroke-width="0.9"/>
<line x1="579.3" y1="490.1" x2="579.3" y2="515.7" stroke="#e6e6e6" stroke-width="0.9"/>
<line x1="357.5" y1="502.2" x2="584.0" y2="502.2" stroke="#e6e6e6" stroke-width="0.9"/>
<line x1="395.6" y1="520.5" x2="395.6" y2="536.5" stroke="#e6e6e6" stroke-width="0.9"/>
<line x1="432.4" y1="520.5" x2="432.4" y2="536.5" stroke="#e6e6e6" stroke-width="0.9"/>
<line x1="469.1" y1="520.5" x2="469.1" y2="536.5" stroke="#e6e6e6" stroke-width="0.9"/>
<line x1="505.8" y1="520.5" x2="505.8" y2="536.5" stroke="#e6e6e6" stroke-width="0.9"/>
<line x1="542.6" y1="520.5" x2="542.6" y2="536.5" stroke="#e6e6e6" stroke-width="0.9"/>
<line x1="579.3" y1="520.5" x2="579.3" y2="536.5" stroke="#e6e6e6" stroke-width="0.9"/>
<line x1="357.5" y1="526.8" x2="584.0" y2="526.8" stroke="#e6e6e6" stroke-width="0.9"/>
<line x1="395.6" y1="552.0" x2="395.6" y2="709.4" stroke="#e6e6e6" stroke-width="0.9"/>
<line x1="432.4" y1="552.0" x2="432.4" y2="709.4" stroke="#e6e6e6" stroke-width="0.9"/>
<line x1="469.1" y1="552.0" x2="469.1" y2="709.4" stroke="#e6e6e6" stroke-width="0.9"/>
<line x1="505.8" y1="552.0" x2="505.8" y2="709.4" stroke="#e6e6e6" stroke-width="0.9"/>
<line x1="542.6" y1="552.0" x2="542.6" y2="709.4" stroke="#e6e6e6" stroke-width="0.9"/>
<line x1="579.3" y1="552.0" x2="579.3" y2="709.4" stroke="#e6e6e6" stroke-width="0.9"/>
<line x1="357.5" y1="563.5" x2="615.8" y2="563.5" stroke="#e6e6e6" stroke-width="0.9"/>
<line x1="357.5" y1="571.2" x2="615.8" y2="571.2" stroke="#e6e6e6" stroke-width="0.9"/>
<line x1="357.5" y1="579.0" x2="615.8" y2="579.0" stroke="#e6e6e6" stroke-width="0.9"/>
<line x1="357.5" y1="586.7" x2="615.8" y2="586.7" stroke="#e6e6e6" stroke-width="0.9"/>
<line x1="357.5" y1="594.5" x2="615.8" y2="594.5" stroke="#e6e6e6" stroke-width="0.9"/>
<line x1="357.5" y1="602.2" x2="615.8" y2="602.2" stroke="#e6e6e6" stroke-width="0.9"/>
<line x1="357.5" y1="610.0" x2="615.8" y2="610.0" stroke="#e6e6e6" stroke-width="0.9"/>
<line x1="357.5" y1="617.7" x2="615.8" y2="617.7" stroke="#e6e6e6" stroke-width="0.9"/>
<line x1="357.5" y1="625.5" x2="615.8" y2="625.5" stroke="#e6e6e6" stroke-width="0.9"/>
<line x1="357.5" y1="633.2" x2="615.8" y2="633.2" stroke="#e6e6e6" stroke-width="0.9"/>
<line x1="357.5" y1="641.0" x2="615.8" y2="641.0" stroke="#e6e6e6" stroke-width="0.9"/>
<line x1="357.5" y1="648.7" x2="615.8" y2="648.7" stroke="#e6e6e6" stroke-width="0.9"/>
<line x1="357.5" y1="656.4" x2="615.8" y2="656.4" stroke="#e6e6e6" stroke-width="0.9"/>
<line x1="357.5" y1="664.2" x2="615.8" y2="664.2" stroke="#e6e6e6" stroke-width="0.9"/>
<line x1="357.5" y1="671.9" x2="615.8" y2="671.9" stroke="#e6e6e6" stroke-width="0.9"/>
<line x1="357.5" y1="679.7" x2="615.8" y2="679.7" stroke="#e6e6e6" stroke-width="0.9"/>
<line x1="357.5" y1="687.4" x2="615.8" y2="687.4" stroke="#e6e6e6" stroke-width="0.9"/>
<line x1="357.5" y1="695.2" x2="615.8" y2="695.2" stroke="#e6e6e6" stroke-width="0.9"/>
<line x1="357.5" y1="702.9" x2="615.8" y2="702.9" stroke="#e6e6e6" stroke-width="0.9"/>
<line x1="395.6" y1="728.6" x2="395.6" y2="762.3" stroke="#e6e6e6" stroke-width="0.9"/>
<line x1="432.4" y1="728.6" x2="432.4" y2="762.3" stroke="#e6e6e6" stroke-width="0.9"/>
<line x1="469.1" y1="728.6" x2="469.1" y2="762.3" stroke="#e6e6e6" stroke-width="0.9"/>
<line x1="505.8" y1="728.6" x2="505.8" y2="762.3" stroke="#e6e6e6" stroke-width="0.9"/>
<line x1="542.6" y1="728.6" x2="542.6" y2="762.3" stroke="#e6e6e6" stroke-width="0.9"/>
<line x1="579.3" y1="728.6" x2="579.3" y2="762.3" stroke="#e6e6e6" stroke-width="0.9"/>
<line x1="357.5" y1="735.2" x2="615.8" y2="735.2" stroke="#e6e6e6" stroke-width="0.9"/>
<line x1="357.5" y1="742.9" x2="615.8" y2="742.9" stroke="#e6e6e6" stroke-width="0.9"/>
<line x1="357.5" y1="750.5" x2="615.8" y2="750.5" stroke="#e6e6e6" stroke-width="0.9"/>
<line x1="357.5" y1="758.2" x2="615.8" y2="758.2" stroke="#e6e6e6" stroke-width="0.9"/>
<line x1="422.2" y1="328.7" x2="436.2" y2="328.7" stroke="#2a2a2a" stroke-width="1.15"/>
<rect x="424.5" y="325.8" width="8.2" height="5.8" fill="#fff" stroke="#222" stroke-width="1.4"/>
<line x1="428.5" y1="325.8" x2="428.5" y2="331.6" stroke="#333" stroke-width="1.6"/>
<circle cx="422.2" cy="328.7" r="2.45" fill="#d7726b" stroke="#222" stroke-width="0.6"/>
<circle cx="436.2" cy="328.7" r="2.45" fill="#e5998e" stroke="#222" stroke-width="0.6"/>
<text transform="translate(414.80,331.50) scale(0.94,1)" x="0" y="0" font-size="7.95" text-anchor="end" fill="#232323" stroke="#232323" stroke-width="0.04">PFOR(3)</text>
<line x1="430.6" y1="343.4" x2="433.7" y2="343.4" stroke="#2a2a2a" stroke-width="1.15"/>
<circle cx="430.6" cy="343.4" r="2.45" fill="#e0897e" stroke="#222" stroke-width="0.6"/>
<circle cx="433.7" cy="343.4" r="2.45" fill="#e39286" stroke="#222" stroke-width="0.6"/>
<polygon points="399.00,347.10 398.02,344.75 395.48,344.54 397.42,342.89 396.83,340.41 399.00,341.73 401.17,340.41 400.58,342.89 402.52,344.54 399.98,344.75" fill="#14a898" stroke="#111" stroke-width="0.9" stroke-linejoin="miter"/>
<text transform="translate(424.50,346.20) scale(0.94,1)" x="0" y="0" font-size="7.95" text-anchor="end" fill="#232323" stroke="#232323" stroke-width="0.04"><tspan style="font-style:italic">ppdk</tspan></text>
<circle cx="444.1" cy="351.1" r="2.45" fill="#ecb1a7" stroke="#222" stroke-width="0.6"/>
<text transform="translate(436.20,353.90) scale(0.94,1)" x="0" y="0" font-size="7.95" text-anchor="end" fill="#232323" stroke="#232323" stroke-width="0.04"><tspan style="font-style:italic">malQ</tspan></text>
<line x1="519.1" y1="358.7" x2="532.9" y2="358.7" stroke="#2a2a2a" stroke-width="1.15"/>
<rect x="523.1" y="355.8" width="9.2" height="5.8" fill="#fff" stroke="#222" stroke-width="1.4"/>
<line x1="527.7" y1="355.8" x2="527.7" y2="361.6" stroke="#333" stroke-width="1.6"/>
<circle cx="519.1" cy="358.7" r="2.45" fill="#6d8eca" stroke="#222" stroke-width="0.6"/>
<circle cx="532.9" cy="358.7" r="2.45" fill="#547bbe" stroke="#222" stroke-width="0.6"/>
<text transform="translate(538.80,361.50) scale(0.94,1)" x="0" y="0" font-size="7.95" text-anchor="start" fill="#232323" stroke="#232323" stroke-width="0.04">GH16</text>
<circle cx="496.8" cy="366.5" r="2.45" fill="#a6bae1" stroke="#222" stroke-width="0.6"/>
<text transform="translate(504.30,369.30) scale(0.94,1)" x="0" y="0" font-size="7.95" text-anchor="start" fill="#232323" stroke="#232323" stroke-width="0.04"><tspan style="font-style:italic">acnB</tspan></text>
<circle cx="534.9" cy="374.3" r="2.45" fill="#5178bd" stroke="#222" stroke-width="0.6"/>
<text transform="translate(542.10,377.10) scale(0.94,1)" x="0" y="0" font-size="7.95" text-anchor="start" fill="#232323" stroke="#232323" stroke-width="0.04"><tspan style="font-style:italic">fabA</tspan></text>
<line x1="376.8" y1="396.1" x2="415.2" y2="396.1" stroke="#2a2a2a" stroke-width="1.15"/>
<rect x="384.7" y="393.2" width="20.6" height="5.8" fill="#fff" stroke="#222" stroke-width="1.4"/>
<line x1="395.4" y1="393.2" x2="395.4" y2="399.0" stroke="#333" stroke-width="1.6"/>
<circle cx="376.8" cy="396.1" r="2.45" fill="#ac202c" stroke="#222" stroke-width="0.6"/>
<circle cx="415.2" cy="396.1" r="2.45" fill="#cf5f5b" stroke="#222" stroke-width="0.6"/>
<text transform="translate(424.90,398.90) scale(0.94,1)" x="0" y="0" font-size="7.95" text-anchor="start" fill="#232323" stroke="#232323" stroke-width="0.04">hypothetical</text>
<line x1="423.9" y1="403.3" x2="425.7" y2="403.3" stroke="#2a2a2a" stroke-width="1.15"/>
<circle cx="423.9" cy="403.3" r="2.45" fill="#d9776f" stroke="#222" stroke-width="0.6"/>
<circle cx="425.7" cy="403.3" r="2.45" fill="#db7c73" stroke="#222" stroke-width="0.6"/>
<text transform="translate(433.90,406.10) scale(0.94,1)" x="0" y="0" font-size="7.95" text-anchor="start" fill="#232323" stroke="#232323" stroke-width="0.04"><tspan style="font-style:italic">hypE</tspan></text>
<line x1="369.8" y1="411.3" x2="410.0" y2="411.3" stroke="#2a2a2a" stroke-width="1.15"/>
<rect x="381.5" y="408.4" width="20.1" height="5.8" fill="#fff" stroke="#222" stroke-width="1.4"/>
<line x1="391.7" y1="408.4" x2="391.7" y2="414.2" stroke="#333" stroke-width="1.6"/>
<circle cx="369.8" cy="411.3" r="2.45" fill="#a91e2b" stroke="#222" stroke-width="0.6"/>
<circle cx="410.0" cy="411.3" r="2.45" fill="#c95250" stroke="#222" stroke-width="0.6"/>
<polygon points="438.80,415.00 437.82,412.65 435.28,412.44 437.22,410.79 436.63,408.31 438.80,409.63 440.97,408.31 440.38,410.79 442.32,412.44 439.78,412.65" fill="#14a898" stroke="#111" stroke-width="0.9" stroke-linejoin="miter"/>
<text transform="translate(433.10,414.10) scale(0.94,1)" x="0" y="0" font-size="7.95" text-anchor="end" fill="#232323" stroke="#232323" stroke-width="0.04"><tspan style="font-style:italic">isp2</tspan></text>
<line x1="369.8" y1="418.7" x2="393.9" y2="418.7" stroke="#2a2a2a" stroke-width="1.15"/>
<rect x="375.5" y="415.8" width="12.9" height="5.8" fill="#fff" stroke="#222" stroke-width="1.4"/>
<line x1="383.0" y1="415.8" x2="383.0" y2="421.6" stroke="#333" stroke-width="1.6"/>
<circle cx="369.8" cy="418.7" r="2.45" fill="#a91e2b" stroke="#222" stroke-width="0.6"/>
<circle cx="393.9" cy="418.7" r="2.45" fill="#b72f33" stroke="#222" stroke-width="0.6"/>
<polygon points="421.90,422.40 420.92,420.05 418.38,419.84 420.32,418.19 419.73,415.71 421.90,417.03 424.07,415.71 423.48,418.19 425.42,419.84 422.88,420.05" fill="#14a898" stroke="#111" stroke-width="0.9" stroke-linejoin="miter"/>
<text transform="translate(415.70,421.50) scale(0.94,1)" x="0" y="0" font-size="7.95" text-anchor="end" fill="#232323" stroke="#232323" stroke-width="0.04"><tspan style="font-style:italic">hyiA</tspan></text>
<line x1="407.0" y1="426.4" x2="411.5" y2="426.4" stroke="#2a2a2a" stroke-width="1.15"/>
<circle cx="407.0" cy="426.4" r="2.45" fill="#c64b4a" stroke="#222" stroke-width="0.6"/>
<circle cx="411.5" cy="426.4" r="2.45" fill="#cb5653" stroke="#222" stroke-width="0.6"/>
<text transform="translate(417.00,429.20) scale(0.94,1)" x="0" y="0" font-size="7.95" text-anchor="start" fill="#232323" stroke="#232323" stroke-width="0.04"><tspan style="font-style:italic">hupE</tspan></text>
<line x1="556.2" y1="502.2" x2="559.9" y2="502.2" stroke="#2a2a2a" stroke-width="1.15"/>
<circle cx="556.2" cy="502.2" r="2.45" fill="#3d67b2" stroke="#222" stroke-width="0.6"/>
<circle cx="559.9" cy="502.2" r="2.45" fill="#3b65b0" stroke="#222" stroke-width="0.6"/>
<text transform="translate(566.00,505.00) scale(0.94,1)" x="0" y="0" font-size="7.95" text-anchor="start" fill="#232323" stroke="#232323" stroke-width="0.04"><tspan style="font-style:italic">cphA</tspan></text>
<line x1="379.2" y1="526.8" x2="383.6" y2="526.8" stroke="#2a2a2a" stroke-width="1.15"/>
<circle cx="379.2" cy="526.8" r="2.45" fill="#ad222d" stroke="#222" stroke-width="0.6"/>
<circle cx="383.6" cy="526.8" r="2.45" fill="#b0262f" stroke="#222" stroke-width="0.6"/>
<text transform="translate(393.10,529.60) scale(0.94,1)" x="0" y="0" font-size="7.95" text-anchor="start" fill="#232323" stroke="#232323" stroke-width="0.04"><tspan style="font-style:italic">sgpA</tspan>(1)</text>
<line x1="423.2" y1="563.5" x2="426.9" y2="563.5" stroke="#2a2a2a" stroke-width="1.15"/>
<circle cx="423.2" cy="563.5" r="2.45" fill="#d8756d" stroke="#222" stroke-width="0.6"/>
<circle cx="426.9" cy="563.5" r="2.45" fill="#dc7f76" stroke="#222" stroke-width="0.6"/>
<text transform="translate(434.80,566.30) scale(0.94,1)" x="0" y="0" font-size="7.95" text-anchor="start" fill="#232323" stroke="#232323" stroke-width="0.04"><tspan style="font-style:italic">fusA</tspan>(2)</text>
<line x1="495.2" y1="571.2" x2="495.9" y2="571.2" stroke="#2a2a2a" stroke-width="1.15"/>
<circle cx="495.2" cy="571.2" r="2.45" fill="#aabde2" stroke="#222" stroke-width="0.6"/>
<circle cx="495.9" cy="571.2" r="2.45" fill="#a8bbe2" stroke="#222" stroke-width="0.6"/>
<text transform="translate(501.90,574.04) scale(0.94,1)" x="0" y="0" font-size="7.95" text-anchor="start" fill="#232323" stroke="#232323" stroke-width="0.04"><tspan style="font-style:italic">mcrA</tspan></text>
<circle cx="604.1" cy="579.0" r="2.45" fill="#345eaa" stroke="#222" stroke-width="0.6"/>
<text transform="translate(598.20,581.79) scale(0.94,1)" x="0" y="0" font-size="7.95" text-anchor="end" fill="#232323" stroke="#232323" stroke-width="0.04"><tspan style="font-style:italic">yidD</tspan></text>
<line x1="511.5" y1="586.7" x2="531.1" y2="586.7" stroke="#2a2a2a" stroke-width="1.15"/>
<rect x="517.4" y="583.8" width="9.3" height="5.8" fill="#fff" stroke="#222" stroke-width="1.4"/>
<line x1="522.0" y1="583.8" x2="522.0" y2="589.6" stroke="#333" stroke-width="1.6"/>
<circle cx="511.5" cy="586.7" r="2.45" fill="#809dd2" stroke="#222" stroke-width="0.6"/>
<circle cx="531.1" cy="586.7" r="2.45" fill="#567cbf" stroke="#222" stroke-width="0.6"/>
<text transform="translate(536.90,589.53) scale(0.94,1)" x="0" y="0" font-size="7.95" text-anchor="start" fill="#232323" stroke="#232323" stroke-width="0.04"><tspan style="font-style:italic">yidC</tspan></text>
<circle cx="538.4" cy="594.5" r="2.45" fill="#4c75bb" stroke="#222" stroke-width="0.6"/>
<text transform="translate(549.20,597.28) scale(0.94,1)" x="0" y="0" font-size="7.95" text-anchor="start" fill="#232323" stroke="#232323" stroke-width="0.04">PG peptidase</text>
<line x1="564.1" y1="602.2" x2="585.1" y2="602.2" stroke="#2a2a2a" stroke-width="1.15"/>
<rect x="568.5" y="599.3" width="10.8" height="5.8" fill="#fff" stroke="#222" stroke-width="1.4"/>
<line x1="574.0" y1="599.3" x2="574.0" y2="605.1" stroke="#333" stroke-width="1.6"/>
<circle cx="564.1" cy="602.2" r="2.45" fill="#3963af" stroke="#222" stroke-width="0.6"/>
<circle cx="585.1" cy="602.2" r="2.45" fill="#345eaa" stroke="#222" stroke-width="0.6"/>
<text transform="translate(592.40,605.02) scale(0.94,1)" x="0" y="0" font-size="7.95" text-anchor="start" fill="#232323" stroke="#232323" stroke-width="0.04">rimN</text>
<line x1="403.8" y1="610.0" x2="432.4" y2="610.0" stroke="#2a2a2a" stroke-width="1.15"/>
<rect x="410.8" y="607.1" width="14.1" height="5.8" fill="#fff" stroke="#222" stroke-width="1.4"/>
<line x1="418.2" y1="607.1" x2="418.2" y2="612.9" stroke="#333" stroke-width="1.6"/>
<circle cx="403.8" cy="610.0" r="2.45" fill="#c24444" stroke="#222" stroke-width="0.6"/>
<circle cx="432.4" cy="610.0" r="2.45" fill="#e28e82" stroke="#222" stroke-width="0.6"/>
<text transform="translate(439.80,612.77) scale(0.94,1)" x="0" y="0" font-size="7.95" text-anchor="start" fill="#232323" stroke="#232323" stroke-width="0.04"><tspan style="font-style:italic">rocR</tspan></text>
<line x1="521.5" y1="617.7" x2="576.4" y2="617.7" stroke="#2a2a2a" stroke-width="1.15"/>
<rect x="536.4" y="614.8" width="27.7" height="5.8" fill="#fff" stroke="#222" stroke-width="1.4"/>
<line x1="550.1" y1="614.8" x2="550.1" y2="620.6" stroke="#333" stroke-width="1.6"/>
<circle cx="521.5" cy="617.7" r="2.45" fill="#6789c7" stroke="#222" stroke-width="0.6"/>
<circle cx="576.4" cy="617.7" r="2.45" fill="#355fab" stroke="#222" stroke-width="0.6"/>
<text transform="translate(583.60,620.51) scale(0.94,1)" x="0" y="0" font-size="7.95" text-anchor="start" fill="#232323" stroke="#232323" stroke-width="0.04"><tspan style="font-style:italic">rpmB</tspan></text>
<circle cx="516.5" cy="625.5" r="2.45" fill="#7393cc" stroke="#222" stroke-width="0.6"/>
<text transform="translate(523.80,628.26) scale(0.94,1)" x="0" y="0" font-size="7.95" text-anchor="start" fill="#232323" stroke="#232323" stroke-width="0.04"><tspan style="font-style:italic">prsK</tspan></text>
<circle cx="522.3" cy="633.2" r="2.45" fill="#6588c6" stroke="#222" stroke-width="0.6"/>
<text transform="translate(532.60,636.00) scale(0.94,1)" x="0" y="0" font-size="7.95" text-anchor="start" fill="#232323" stroke="#232323" stroke-width="0.04">Transglycolase</text>
<line x1="513.0" y1="641.0" x2="554.5" y2="641.0" stroke="#2a2a2a" stroke-width="1.15"/>
<rect x="523.8" y="638.1" width="19.8" height="5.8" fill="#fff" stroke="#222" stroke-width="1.4"/>
<line x1="533.4" y1="638.1" x2="533.4" y2="643.9" stroke="#333" stroke-width="1.6"/>
<circle cx="513.0" cy="641.0" r="2.45" fill="#7c9ad0" stroke="#222" stroke-width="0.6"/>
<circle cx="554.5" cy="641.0" r="2.45" fill="#3e68b3" stroke="#222" stroke-width="0.6"/>
<text transform="translate(560.30,643.75) scale(0.94,1)" x="0" y="0" font-size="7.95" text-anchor="start" fill="#232323" stroke="#232323" stroke-width="0.04"><tspan style="font-style:italic">lolA-like</tspan></text>
<circle cx="518.5" cy="648.7" r="2.45" fill="#6e8fca" stroke="#222" stroke-width="0.6"/>
<text transform="translate(526.30,651.50) scale(0.94,1)" x="0" y="0" font-size="7.95" text-anchor="start" fill="#232323" stroke="#232323" stroke-width="0.04"><tspan style="font-style:italic">iscA</tspan></text>
<circle cx="558.7" cy="656.4" r="2.45" fill="#3b65b1" stroke="#222" stroke-width="0.6"/>
<text transform="translate(565.30,659.24) scale(0.94,1)" x="0" y="0" font-size="7.95" text-anchor="start" fill="#232323" stroke="#232323" stroke-width="0.04">HIT-like</text>
<circle cx="551.2" cy="664.2" r="2.45" fill="#406ab4" stroke="#222" stroke-width="0.6"/>
<text transform="translate(558.30,666.98) scale(0.94,1)" x="0" y="0" font-size="7.95" text-anchor="start" fill="#232323" stroke="#232323" stroke-width="0.04"><tspan style="font-style:italic">ihfB</tspan></text>
<circle cx="529.0" cy="671.9" r="2.45" fill="#597fc1" stroke="#222" stroke-width="0.6"/>
<text transform="translate(537.70,674.73) scale(0.94,1)" x="0" y="0" font-size="7.95" text-anchor="start" fill="#232323" stroke="#232323" stroke-width="0.04">SIS-GmhA</text>
<circle cx="525.5" cy="679.7" r="2.45" fill="#5e83c3" stroke="#222" stroke-width="0.6"/>
<text transform="translate(529.50,682.47) scale(0.94,1)" x="0" y="0" font-size="7.95" text-anchor="start" fill="#232323" stroke="#232323" stroke-width="0.04"><tspan style="font-style:italic">ftsE</tspan></text>
<circle cx="522.7" cy="687.4" r="2.45" fill="#6487c6" stroke="#222" stroke-width="0.6"/>
<text transform="translate(529.80,690.22) scale(0.94,1)" x="0" y="0" font-size="7.95" text-anchor="start" fill="#232323" stroke="#232323" stroke-width="0.04"><tspan style="font-style:italic">dut</tspan></text>
<circle cx="534.9" cy="695.2" r="2.45" fill="#5178bd" stroke="#222" stroke-width="0.6"/>
<text transform="translate(541.20,697.96) scale(0.94,1)" x="0" y="0" font-size="7.95" text-anchor="start" fill="#232323" stroke="#232323" stroke-width="0.04"><tspan style="font-style:italic">cbbQ</tspan></text>
<line x1="506.2" y1="702.9" x2="508.0" y2="702.9" stroke="#2a2a2a" stroke-width="1.15"/>
<circle cx="506.2" cy="702.9" r="2.45" fill="#8da7d8" stroke="#222" stroke-width="0.6"/>
<circle cx="508.0" cy="702.9" r="2.45" fill="#89a4d6" stroke="#222" stroke-width="0.6"/>
<text transform="translate(515.00,705.71) scale(0.94,1)" x="0" y="0" font-size="7.95" text-anchor="start" fill="#232323" stroke="#232323" stroke-width="0.04"><tspan style="font-style:italic">bamD</tspan></text>
<circle cx="530.7" cy="735.2" r="2.45" fill="#577dc0" stroke="#222" stroke-width="0.6"/>
<text transform="translate(538.40,738.00) scale(0.94,1)" x="0" y="0" font-size="7.95" text-anchor="start" fill="#232323" stroke="#232323" stroke-width="0.04">PRX-BCP</text>
<line x1="505.7" y1="742.9" x2="523.5" y2="742.9" stroke="#2a2a2a" stroke-width="1.15"/>
<rect x="511.2" y="740.0" width="9.2" height="5.8" fill="#fff" stroke="#222" stroke-width="1.4"/>
<line x1="516.0" y1="740.0" x2="516.0" y2="745.8" stroke="#333" stroke-width="1.6"/>
<circle cx="505.7" cy="742.9" r="2.45" fill="#8ea8d8" stroke="#222" stroke-width="0.6"/>
<circle cx="523.5" cy="742.9" r="2.45" fill="#6285c5" stroke="#222" stroke-width="0.6"/>
<text transform="translate(531.70,745.70) scale(0.94,1)" x="0" y="0" font-size="7.95" text-anchor="start" fill="#232323" stroke="#232323" stroke-width="0.04">Hr</text>
<circle cx="528.0" cy="750.5" r="2.45" fill="#5b80c2" stroke="#222" stroke-width="0.6"/>
<text transform="translate(535.20,753.30) scale(0.94,1)" x="0" y="0" font-size="7.95" text-anchor="start" fill="#232323" stroke="#232323" stroke-width="0.04"><tspan style="font-style:italic">fliK</tspan></text>
<circle cx="561.3" cy="758.2" r="2.45" fill="#3a64b0" stroke="#222" stroke-width="0.6"/>
<text transform="translate(568.50,761.00) scale(0.94,1)" x="0" y="0" font-size="7.95" text-anchor="start" fill="#232323" stroke="#232323" stroke-width="0.04">FBP</text>
<text x="594.0" y="345.0" font-size="7.9" text-anchor="start" fill="#2a2a2a" style="" >Pyruvate-pep conversions</text>
<text x="594.0" y="353.9" font-size="7.9" text-anchor="start" fill="#2a2a2a" style="" >Glycogen catabolism</text>
<text x="594.0" y="362.1" font-size="7.9" text-anchor="start" fill="#2a2a2a" style="" >Polysacharide degradation</text>
<text x="594.0" y="370.3" font-size="7.9" text-anchor="start" fill="#2a2a2a" style="" >TCA</text>
<text x="594.0" y="379.2" font-size="7.9" text-anchor="start" fill="#2a2a2a" style="" >Fatty acid synthesis</text>
<path d="M590.6,395.8 H597.2 V435.4 H590.6" fill="none" stroke="#333" stroke-width="1.1"/>
<text x="603.7" y="414.4" font-size="7.9" text-anchor="start" fill="#2a2a2a" style="" >[NiFe] group 1e</text>
<text x="603.7" y="423.1" font-size="7.9" text-anchor="start" fill="#2a2a2a" style="" >hydrogenase</text>
<text x="593.0" y="504.6" font-size="7.9" text-anchor="start" fill="#2a2a2a" style="" >Nitrogen storage</text>
<text x="594.0" y="534.3" font-size="7.9" text-anchor="start" fill="#2a2a2a" style="" >Sulfur storage</text>
<text x="395.6" y="773.6" font-size="8.2" text-anchor="middle" fill="#333" style="" >4</text>
<text x="469.1" y="773.6" font-size="8.2" text-anchor="middle" fill="#333" style="" >0</text>
<text x="542.6" y="773.6" font-size="8.2" text-anchor="middle" fill="#333" style="" >−4</text>
<text x="486.9" y="783.9" font-size="9.0" text-anchor="middle" fill="#222" style="" >Average logFC in significant DE genes in black and purple</text>
<text x="487.1" y="794.4" font-size="9.2" text-anchor="middle" fill="#222" style="" >modules under oxygen limitation</text>
<line x1="70.5" y1="380.9" x2="587.5" y2="383.1" stroke="#222" stroke-width="1.3"/>
<line x1="72.0" y1="445.4" x2="587.5" y2="449.5" stroke="#222" stroke-width="1.3"/>
<line x1="66.1" y1="515.4" x2="587.5" y2="518.2" stroke="#222" stroke-width="1.3"/>
<line x1="68.7" y1="536.6" x2="587.5" y2="539.3" stroke="#222" stroke-width="1.3"/>
<line x1="333.0" y1="328.0" x2="356.8" y2="328.0" stroke="#4a5a78" stroke-width="1.35"/>
<path d="M331.0,328.0 l5.0,-2.5 l-1.2,2.5 l1.2,2.5 z" fill="#4a5a78"/>
<path d="M358.8,328.0 l-5.0,-2.5 l1.2,2.5 l-1.2,2.5 z" fill="#4a5a78"/>
<line x1="333.0" y1="411.3" x2="356.8" y2="411.3" stroke="#4a5a78" stroke-width="1.35"/>
<path d="M331.0,411.3 l5.0,-2.5 l-1.2,2.5 l1.2,2.5 z" fill="#4a5a78"/>
<path d="M358.8,411.3 l-5.0,-2.5 l1.2,2.5 l-1.2,2.5 z" fill="#4a5a78"/>
<line x1="333.0" y1="418.9" x2="356.8" y2="418.9" stroke="#4a5a78" stroke-width="1.35"/>
<path d="M331.0,418.9 l5.0,-2.5 l-1.2,2.5 l1.2,2.5 z" fill="#4a5a78"/>
<path d="M358.8,418.9 l-5.0,-2.5 l1.2,2.5 l-1.2,2.5 z" fill="#4a5a78"/>
<line x1="333.0" y1="426.6" x2="356.8" y2="426.6" stroke="#4a5a78" stroke-width="1.35"/>
<path d="M331.0,426.6 l5.0,-2.5 l-1.2,2.5 l1.2,2.5 z" fill="#4a5a78"/>
<path d="M358.8,426.6 l-5.0,-2.5 l1.2,2.5 l-1.2,2.5 z" fill="#4a5a78"/>
<line x1="333.0" y1="562.8" x2="356.8" y2="562.8" stroke="#4a5a78" stroke-width="1.35"/>
<path d="M331.0,562.8 l5.0,-2.5 l-1.2,2.5 l1.2,2.5 z" fill="#4a5a78"/>
<path d="M358.8,562.8 l-5.0,-2.5 l1.2,2.5 l-1.2,2.5 z" fill="#4a5a78"/>
<line x1="333.0" y1="570.3" x2="356.8" y2="570.3" stroke="#4a5a78" stroke-width="1.35"/>
<path d="M331.0,570.3 l5.0,-2.5 l-1.2,2.5 l1.2,2.5 z" fill="#4a5a78"/>
<path d="M358.8,570.3 l-5.0,-2.5 l1.2,2.5 l-1.2,2.5 z" fill="#4a5a78"/>
<rect x="373.5" y="192.7" width="271" height="106.5" fill="#fff" stroke="#444" stroke-width="1"/>
<polygon points="398.50,213.80 397.18,210.62 393.74,210.35 396.36,208.10 395.56,204.75 398.50,206.55 401.44,204.75 400.64,208.10 403.26,210.35 399.82,210.62" fill="#14a898" stroke="#111" stroke-width="0.9" stroke-linejoin="miter"/>
<text x="410.8" y="210.8" font-size="9.15" text-anchor="start" fill="#222" style="" >Genes classified as ‘hub’ in network</text>
<text x="410.8" y="220.5" font-size="9.15" text-anchor="start" fill="#222" style="" >using cytoHubba with the MCC algorithm.</text>
<line x1="381.3" y1="254.7" x2="404.6" y2="254.7" stroke="#4a5a78" stroke-width="1.35"/>
<path d="M379.3,254.7 l5.0,-2.5 l-1.2,2.5 l1.2,2.5 z" fill="#4a5a78"/>
<path d="M406.6,254.7 l-5.0,-2.5 l1.2,2.5 l-1.2,2.5 z" fill="#4a5a78"/>
<text x="410.8" y="259.0" font-size="9.15" text-anchor="start" fill="#222" style="" >Genes found to be significant in both the</text>
<text x="410.8" y="268.9" font-size="9.15" text-anchor="start" fill="#222" style="" >sulfide and oxygen limiting response</text>
<text x="410.8" y="279.1" font-size="9.15" text-anchor="start" fill="#222" style="" >(module membership is ‘fuzzy’)</text>
<defs><linearGradient id="cb" x1="0" y1="0" x2="0" y2="1"><stop offset="0" stop-color="#a8222c"/><stop offset="0.17" stop-color="#b83a3e"/><stop offset="0.33" stop-color="#d88a86"/><stop offset="0.5" stop-color="#f7f7f7"/><stop offset="0.67" stop-color="#9fb0d6"/><stop offset="0.83" stop-color="#4f72b4"/><stop offset="1" stop-color="#2f5ca6"/></linearGradient></defs>
<rect x="606.4" y="222.5" width="10.7" height="49.1" fill="url(#cb)"/>
<text x="603.0" y="228.0" font-size="7.3" text-anchor="end" fill="#333" style="" >6</text>
<text x="603.0" y="235.4" font-size="7.3" text-anchor="end" fill="#333" style="" >4</text>
<text x="603.0" y="242.8" font-size="7.3" text-anchor="end" fill="#333" style="" >2</text>
<text x="603.0" y="250.2" font-size="7.3" text-anchor="end" fill="#333" style="" >0</text>
<text x="603.0" y="257.6" font-size="7.3" text-anchor="end" fill="#333" style="" >−2</text>
<text x="603.0" y="265.0" font-size="7.3" text-anchor="end" fill="#333" style="" >−4</text>
<text x="603.0" y="272.4" font-size="7.3" text-anchor="end" fill="#333" style="" >−6</text>
<text x="610.8" y="280.3" font-size="7.8" text-anchor="middle" fill="#222" style="" >Avg logFC value</text>
</svg></body></html>
